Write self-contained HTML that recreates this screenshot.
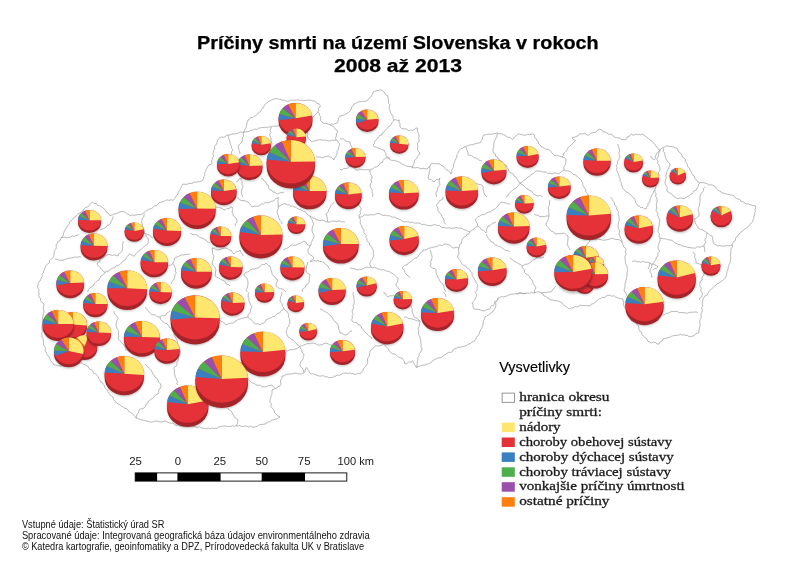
<!DOCTYPE html>
<html lang="sk"><head><meta charset="utf-8"><title>Príčiny smrti na území Slovenska</title>
<style>html,body{margin:0;padding:0;background:#fff}body{width:800px;height:566px;overflow:hidden;font-family:"Liberation Sans",sans-serif}svg{display:block;filter:blur(.45px);font-family:"Liberation Sans",sans-serif}.sf text{font-family:"Liberation Serif",serif}</style></head>
<body>
<svg width="800" height="566" viewBox="0 0 800 566">
<defs><filter id="sh" x="-20%" y="-20%" width="140%" height="140%"><feGaussianBlur stdDeviation="1.1"/></filter></defs>
<rect width="800" height="566" fill="#fff"/>
<g fill="none" stroke="#999" stroke-width=".6" stroke-linejoin="round">
<path d="M64 232L64.7 230.4L65.4 228.8L67 227.8L67.2 225.9L68.7 224.8L69.4 223.3L69.9 221.6L71.4 220.5L72.8 219.3L73.8 217.5L75.6 216.7L76.7 215L78.1 213.8L79.9 212.9L81.4 211.7L83.1 210.9L83.9 208.8L85.4 207.7L87.2 207L88.9 206.1L90 204.5L91.2 203.1L92.7 202L94 203.6L96.4 203.4L97.5 205.5L99.6 205.7L101.4 206.5L102.8 208L104.4 208.9L105.4 210.3L106.1 212.1L107.9 212.7L108.7 214.3L110 215.5L112 215.1L113.8 214.1L115.9 213.7L117.8 213L119.7 211.9L121.8 211.5L124 211.7L125.7 212.3L126.9 213.8L128.6 214.5L130 215.5L132 215.1L134 215.3L136 215L138 214.6L140 214.7L141.9 214.1L143.5 213L145 211.7L146.4 210.4L148.3 209.9L149.9 208.8L151.8 208.3L153.3 207.2L154.6 205.7L156.7 205.6L158 204L159.6 202.6L161.7 202.1L163.8 201.6L165.5 200.4L167.4 199.9L169.2 200.4L171.1 199.7L173 200.4L174.2 199.1L175.3 197.7L176.1 196L177.5 194.8L178 193L178.6 191.4L179.9 190.1L180.6 188.6L181.4 187.1L182.1 185.5L183 184L185.1 184.3L187.1 184.3L189 183.4L191 183.4L193 183L194.5 181.9L196.4 182.3L198.1 181.7L199.9 181.7L201.5 181L203 180L203.3 178.2L204 176.5L205 174.9L204.6 172.9L205.8 171.4L206 169.6L207 168L207.8 166.3L209 165L211 164.5L212 163L211.7 161.1L212.2 159.3L212.6 157.5L213.6 155.7L212.7 153.7L213.5 152L213.9 150.2L214.7 148.4L214.4 146.5L215.8 145L216.9 143.3L217.2 141.1L218.4 139.4L219.5 137.7L221.2 137L223.1 137.4L224.9 137L226.4 135.4L228.1 135L230 135L231.7 134.2L233.4 133.9L235.2 133.9L237 133.6L238.7 132.8L240.3 132L242.2 132.3L244 132L244.4 130.2L245.2 128.6L246.4 127.1L246.6 125.2L246.9 123.4L247.6 121.8L248 120L249.6 119.2L250.6 117.4L252.8 117.5L254.2 116.3L255.8 115.5L257.2 114.4L258.4 112.9L260 112L261 110.4L261.9 108.6L263.7 107.6L264.1 105.6L265.3 104.1L267 103L268.5 101.6L270.2 100.6L272.1 99.8L274 99L275.8 98.6L277.6 98.8L279.2 99.3L281 99.6L282.6 100.2L284.4 100L286 101L287.8 101.4L289.6 100.9L291.3 100.1L293.1 100.2L294.9 100.2L296.7 100.1L298.4 99.7L300.3 100.6L302 100L303.7 100.9L305.4 100.2L307.1 100.4L308.9 100L310.6 100.1L312.3 100.6L314 101L315.7 101.7L316.7 103.4L318.8 103.6L320 105L320.2 106.9L318.3 108.3L318.5 110.2L318 112L319.2 113.5L319.3 115.4L320.7 116.7L320.6 118.7L320.7 120.6L322 122L323.4 123.1L325.1 123.5L326.9 123.5L328.5 124.2L330 125L331.6 124L333.6 124.4L335.3 123.5L337 123L338.1 121.4L338.3 119.4L338.9 117.6L340 116L342 115.6L343.9 115.1L345.6 114.1L347.4 113.2L349 112L350.4 110.7L351.3 109L351.7 107L353 105.6L354 104L355.7 103.3L357.3 102.3L359.1 101.8L360.9 101.7L362.7 101.2L364.6 101.3L366.4 101.2L368 100L368.9 98.4L370.6 97.1L371.6 95.6L372.6 94L373 92L375 91.3L376.9 90.6L378.9 90.1L381 90L382.7 90.9L384.1 92.1L385.1 93.7L386.2 95.3L388 96L387.7 97.8L388.5 99.5L388.5 101.3L388.6 103.1L389.9 104.7L389.3 106.5L389.1 108.3L390 110L390.3 111.8L391 113.5L392 115L393.1 116.5L392.9 118.5L394 120L395.8 119.7L397.7 120.5L399.5 120L398.9 121.8L399.9 123.5L400 125.2L400 127L401.5 128.4L403.5 128.9L405.6 128.9L407.4 129.7L409 131L410.5 129.9L412.6 130.4L414.3 129.6L415.6 128.1L417.5 128L417.3 129.8L417.4 131.5L418.2 133.1L418.9 134.8L419 136.5L418.7 138.2L419.1 140L419.1 141.7L417.4 143.3L417.7 145L417.7 146.8L417.5 148.5L417.7 150.6L419.3 152.1L420 154L418.5 154.9L417.4 156.3L417 158.2L415.9 159.4L414.5 160.5L414.2 162.5L413.6 164.4L412.5 166.1L412 168L413.8 167.6L415.5 167.9L417.2 167.4L419 168L420.9 168.9L423 168.3L425 168.7L427 169L428.3 167.6L430 166.4L430.7 164.4L432 163L433.9 163.9L436 163.5L438 163.8L440 164L441.5 165.4L443.5 166.2L444.6 168.1L446 169.5L448 170.6L449.8 171.9L451 174L451.9 172.4L451.5 170.5L452.5 168.9L453.3 167.3L453.6 165.6L453.7 163.8L454.5 162.2L455 160.5L455.8 158.8L456.9 157.2L456.7 155L458.1 153.5L458.4 151.6L459.5 150L460.8 148.7L462.7 148.3L464 147L466 146.3L468 145.6L470 144.8L471.8 144.8L473.7 144.6L475.3 143.6L477.1 143.4L478.8 142.9L480.6 142.5L481.4 140.6L482.4 138.9L482.8 136.8L483.6 135L485.6 134.7L487.6 134.3L489.6 134L491.6 134.4L493.3 133.7L495.2 133.7L497 132.8L498.8 134L501.1 133.6L503 134.5L505 135L506.1 136.5L507.7 137.3L509.8 137.4L511.3 138.4L512.5 139.8L513.7 138.5L514.7 136.9L516.1 135.9L517.3 134.5L519 133.8L520.7 134.4L522.4 134.8L524.1 135.3L526 135L527.6 134.2L529.5 134.7L531.1 134.3L532.8 133.8L534.5 135.2L534.8 137.6L536.5 139L536.8 140.9L538.7 141.8L538.6 143.8L540.2 144.9L541 146.5L542.9 147.2L544.5 148.7L546.4 149.2L548.5 149.5L550.4 150.6L551.6 152.4L553 154L554.5 155.5L556.4 155.6L558.3 155.8L560.2 156.4L562 157L563.3 155.7L563.4 153.6L565 152.5L566.3 151.1L567.3 149.4L568 147.5L569.6 146.3L571 145L572.6 143.6L574 142L575.5 140.5L573.3 139.5L572 137.5L574.2 137.4L576 136.4L578 135.9L579.4 134L581.5 133.8L583.4 133.8L585.4 133.7L587.1 135.1L589 135L590.4 133.9L591.8 132.9L593.5 132.5L595.3 132.3L596.8 131.3L597.9 129.8L599.6 129.3L601.7 129.8L603 131.7L605.1 132.2L607 133L608.7 134.2L610.9 134.2L612.7 135.1L614.1 136.9L616 137.5L617.8 137.9L619.8 137.8L621.2 139.5L623.2 139.5L625 139.8L626.6 138.9L627.1 136.9L629.1 136.6L630 135L631.7 134.2L633.5 135.3L635.1 134.5L636.8 134.2L638.6 134.4L640.3 134.8L642 134L643.8 134.9L645.5 136L646.8 137.6L648.6 138.5L650 140L651.7 141L652.9 142.5L654.4 143.8L655.5 145.4L656.6 147L657.9 148.4L659 150L660.9 149.3L662.3 147.7L664.3 147L666 146L668.1 145.9L670 146.6L672.1 146.5L674.1 147.2L676 148L677.7 149L678 151.1L679.4 152.3L680.9 153.4L681.7 155.1L682.3 157L684 158L685.4 159.5L685.3 161.6L686.7 163.1L687.4 164.9L687.8 166.8L689.3 168.2L690 170L691 171.5L691.8 173.2L692.4 174.9L694.2 175.9L694.6 177.8L695.7 179.2L696.8 180.6L698 182L699.8 182.3L701.6 182.7L703.5 182.7L705.2 183.2L707 183.6L708.6 185L710.5 184.8L712.3 185.1L714 186L715.7 186.7L716.3 188.7L717.6 189.9L719.2 190.9L720.9 191.6L722 193L723.8 193.1L725.5 193.6L727.2 194.2L729 194.2L730.6 195.1L732.4 195.2L734 196L735.1 197.6L736.6 198.6L738.5 199.1L740.2 199.7L741.1 201.6L743.2 201.8L744.6 202.8L746 204L748.1 203.7L749.9 204.6L751.8 205.2L753.7 205.6L755.6 206L755.7 207.8L754.9 209.5L755.4 211.4L754.6 213.1L754.6 214.9L753.8 216.5L754 218.4L753 220L752.6 221.8L751.2 223L750.3 224.4L748.9 225.5L748 227L746.5 228.1L744.9 229L743.6 230.2L742.1 231.3L740.5 232.3L739.5 234L738 235L737.2 236.8L735.4 238L735.5 240.3L733.7 241.5L732.8 243.2L732 245L732.5 246.9L731.1 248.5L730.8 250.3L731 252.2L730.7 254L730.3 255.7L731.1 257.7L730.4 259.4L730.2 261.2L730 263L729 264.6L728.6 266.4L728 268.1L727.9 270L726.9 271.6L726.7 273.4L726.2 275.2L726 277L724.8 278.5L723.6 279.8L722.1 280.9L720.4 281.7L719.2 283.2L717.1 283.5L716 285L714.6 286.2L713.2 287.4L711.8 288.6L710.6 290L709.1 291.3L708.1 293L707.4 295L705.2 295.7L704 297.3L703 299L702.8 300.7L702.5 302.4L702.2 304.1L702.8 305.9L701.6 307.5L702.2 309.2L702.2 311L701.7 312.6L700.9 314.3L701 316L701.2 317.9L700.2 319.7L699.6 321.5L700.1 323.4L700.1 325.3L699.7 327.1L699.2 329L698.8 330.8L699 332.7L697.2 333.3L695.5 334L694.2 335.6L692.4 336.2L690.5 336.5L688.7 336.4L687.3 335.3L685.4 335.5L683.9 334.7L682 335.1L680.5 334L678.9 335.1L677.1 335.3L675.2 335.3L673.4 335.7L671.7 336.2L670.1 337.3L668.2 337.5L666.5 338.1L664.8 338.5L663 339L662.1 341L659.9 342L659 344L657.1 344L655.5 342.5L653.6 342.1L651.5 343L649.8 342L648 341.5L647.2 339.8L646.3 338.2L644.5 337.2L643.2 335.9L641.9 334.6L641.7 332.4L640 331.4L638.9 329.4L638.8 327.1L638 325L636.5 323.9L635.9 322.1L635.3 320.2L633.2 319.5L633 317.5L631.5 316.3L630.9 314.5L629.6 313.2L627.9 312.2L627.6 310.1L626.1 309.1L625 307.6L623.9 306.1L623.4 304.4L623.6 302.4L623.1 300.7L622.7 299L620.8 298.7L618.9 298.4L617.2 297.5L615.4 297L613.8 295.7L611.6 296.3L610 295L608.1 295.4L606.3 296L604.9 297.7L602.7 297.3L601 298.3L599.1 298.7L597.6 300L596.3 301.4L594.7 302.6L593.1 303.7L591.1 304.2L590 306L588 305.7L586 305.8L584 305.5L582 305.5L580 305L578.6 306.3L576.9 306.9L574.8 306.5L573.5 308L571.4 307.7L570 309L568.4 308.3L566.9 307.3L565.7 306L564 305.4L562.7 304.2L561.8 302.4L560 302L558.1 301L556.1 300.7L554 300.6L552.1 299.8L550 300L549 298.3L547.2 297.7L545.9 296.3L543.9 296L543.1 294L541.4 293.2L540 292L538.3 291.8L536.6 292.1L534.9 292.7L533.2 293.2L531.4 292.1L529.8 293.4L528 293L526.2 293.2L524.5 293.5L522.7 293.6L520.9 293.1L519.1 292.8L517.4 294L515.5 293.5L513.8 294.2L512 294L510.2 294.4L508.5 295.2L506.9 296L505.1 296.5L503.4 296.9L501.3 296.4L499.8 297.5L498 298L497.8 299.8L496.3 301.2L495.6 302.9L495.8 304.9L495.7 306.7L495 308.4L494 310L492.9 311.7L491.1 312.5L489.9 314L488.2 315L486.7 316.1L485 317L484.4 319L483.4 320.9L483.1 322.9L483 325L482.3 326.6L481.6 328.2L480.6 329.7L480.1 331.3L479.3 332.9L478.9 334.6L477.9 336L476.2 337.1L476 339L474.9 340.7L473 341.5L471.4 342.6L470 344L468.1 344L466.8 345.5L465 346L463.4 346.6L461.6 346.9L459.9 347.4L458 347.2L456.5 348.4L454.7 348.8L453.2 349.6L452.4 351.6L450.8 352.4L448.8 352.3L447.2 352.9L446 354.3L444.4 355L443 356L441.7 357.5L439.8 357.8L437.8 357.9L436.2 358.8L434.6 359.6L432.9 360.3L431.7 362.1L430.2 363.1L428.5 363.8L426.6 364.2L425 365L423.1 365.2L421.2 365.4L419.5 366.2L417.7 366.8L416 367.5L415.5 365.6L414.2 364.2L413.5 362.4L412.6 360.8L410.9 362.2L408.5 362L406.9 363.6L404.8 364L404.6 361.9L403.5 360.2L402.5 358.5L400.8 357.9L399.1 357.3L397.6 356.3L396.3 355L394.8 354L392.9 354L391.3 353.2L390 351.8L388.9 350.2L387.9 348.6L386.6 347.2L385.3 345.8L384.5 344L382.8 344.4L381.3 345.7L379.5 345.8L377.8 346.1L375.9 345.8L374.4 347L372.8 348.5L371 349.8L370 351.8L369.6 353.5L369.5 355.2L369.1 356.8L367.6 358.2L367.5 360L367.7 361.8L367.6 363.5L366.5 365L365.4 366.5L364.1 367.8L363.3 369.6L362.5 371.2L360.9 372.4L360 374L358.3 373.2L356.5 374.2L354.7 374.3L353 373.7L351.2 373.5L349.5 373L347.7 373.6L346 373L344.2 373.1L342.5 373.7L340.8 374.5L339.2 375.5L337.2 374.9L335.7 376.3L333.8 376.1L332.3 377.5L330.5 377.6L328.7 377.7L327 376.6L325.1 376.9L323.5 375.6L321.6 376L319.8 376.1L318 375.7L316.3 375.1L314.6 374.4L312.9 373.7L311 374L309.5 372.7L308.9 370.8L307.6 369.4L307 367.5L305.2 369L305.1 371.5L303.5 373L301.6 373.8L299.7 374L297.8 373.7L295.8 373.1L293.9 373.3L292 374L289.9 374.1L287.9 374.1L285.9 374.6L284.1 375.9L282 376L282.1 378.1L280.6 379.9L280.4 381.9L281.1 384.1L280 386L278.3 386.6L276.9 387.8L275.3 388.6L273.7 389.4L272 390L272.1 392.1L271.9 394.1L271.1 396.1L270.6 398L270 400L269.8 402.2L271.5 403.9L270.8 406.2L272 408L273.4 409.3L274.2 410.9L274.6 412.8L276 414L277.7 415.9L280 417L278.4 417.8L277.1 419L275.2 419.1L273.7 420L271.7 419.9L270.6 421.6L268.9 422.1L267 422.1L265.9 423.9L264 424L262.3 424.6L260.5 424.4L258.8 424.9L257.3 426.4L255.6 426.8L253.9 427.2L252 427L250.3 426.2L248.5 427.1L246.8 426.3L245 425.9L243.2 426.6L241.5 426.6L239.8 425.4L238 426L236.3 425.8L234.6 426.4L232.9 425.7L231.1 426.3L229.4 426.3L227.7 426.7L226 426L224.2 426L222.3 426.1L220.6 426.8L218.8 426.7L217.2 428.4L215.4 428.4L213.6 428.4L211.7 428L210 429L208.3 428.1L206.5 428.7L204.7 428.6L203 428.1L201.2 427.8L199.6 426.9L197.7 427.7L196 427L194.3 426.4L192.5 426.4L190.7 426.2L188.9 426.1L187.1 426.3L185.3 426.6L183.5 426.5L181.8 426.3L180 426L178.4 425L176.3 425.3L174.6 424.6L173.1 423.1L171.1 423.2L169.3 422.9L167.5 422.3L166 421L164 421.3L162 421.9L160 422L158.3 421.2L156.5 421.2L154.8 420.9L153 421.9L151.2 422L149.5 421.9L147.7 421.1L146 421L144.4 420.2L142.6 420.1L140.9 419.9L139.3 419.1L137.7 418.3L136 418L134.9 416.5L133.6 415.1L132.4 413.6L130.8 412.5L128.9 411.7L128 410L126.6 408.6L124.5 408.3L123.1 406.9L121.2 406.2L119.9 404.7L118 404L116.5 403L115.5 401.6L114.4 400.2L113.2 399L112.9 397L111.4 395.9L110 394.8L109 393.4L108 392L107.6 390.1L106 389L104.7 387.7L104.4 385.7L103.2 384.4L102.6 382.6L100.5 381.8L100 380L98.8 378.6L98.1 376.8L97 375.4L95.9 373.9L93.7 373.3L92.9 371.6L92 370L90.2 369.5L88.9 368.4L88.1 366.4L86.4 365.9L85.2 364.5L83.3 364.2L82 363L80.1 362.8L78.5 363.8L76.8 364.5L74.9 364.1L73.1 364.2L71.6 365.8L69.7 365.5L68 366L66.3 365.7L64.5 366.2L62.7 365.8L61 366L59.2 365.8L57.5 365.6L55.8 365L54 365L53.2 363.3L51.6 362L50.4 360.5L49.8 358.6L49.2 356.7L47.6 355.5L46.8 353.8L46 352L45.2 350.4L45.6 348.5L44.9 346.9L43.8 345.4L43.4 343.6L43.4 341.8L43.3 340.1L43 338.4L41.8 336.8L42 335L41.6 333.2L42.5 331.4L42.1 329.5L42 327.7L42.2 325.9L43.2 324.1L42.4 322.3L42.8 320.5L42.6 318.6L42.8 316.8L43 315L43.7 313.1L44.1 311.1L43.4 309L43.3 307L44 305L43.3 303.2L41.6 302L40.4 300.6L40.5 298.3L39 297L38.7 295.3L39.2 293.5L38.4 291.9L39 290.1L38.2 288.4L37.6 286.8L38 285L38.3 282.7L40 281L40.7 279.4L41.4 277.8L42.4 276.3L41.9 274.3L43.3 272.9L43.6 271.2L44.4 269.6L45 268L45.6 266.3L46.7 264.9L48 263.7L49.5 262.6L49.5 260.4L51 259.3L52.4 258.1L53.6 256.8L54 255L54 252.9L54.3 250.9L55.9 249.1L56.3 247.1L56 245L57.2 243.4L57.9 241.4L60.1 240.6L60.7 238.5L62 237L63.2 235.6L63.5 233.7L64 232M244 132L243.1 133.9L243.7 136.1L242.4 137.9L242.4 140L241.9 141.8L240.8 143.3L239.3 144.5L238.4 146.2L238 148L239.1 149.8L239.7 151.9L240 154M228 135.2L228.5 136.9L228.8 138.7L229.4 140.4L230.2 142.1L230 144L231.3 145.8L231.7 148.2L233 150L231.5 151.7L231.6 154.3L230 156M271 127L270.7 128.8L270.2 130.6L271.1 132.5L269.7 134.1L270 136L271.1 137.9L270.9 140L271.4 142L272 144M318 112L316.5 113.2L315.5 114.9L314.1 116.1L312.6 117.2L311.4 118.7L310 120L309.3 121.6L309.1 123.4L308.6 125L308.7 126.9L307.3 128.3L307 130L307.3 132L307.9 134L307.4 136L308 138L309 139.6L310.7 140.6L312 142L313.8 140.9L316 140.6L318 140L319.8 139.6L321.5 139.7L323.2 140.3L324.9 140L326.6 140.6L328.3 140.9L330 141L331.9 140L334 140.5L336 140L337.8 140.9L338.4 142.9L340 144M340 144L338.9 145.9L338.7 148L338 150M336 140L335.5 137.9L336.4 136L336.4 134L337.5 132.1L337 130L335.3 129.4L334.5 127.6L333.2 126.4L331.6 125.7L330 125M241 178L241 180.1L242.4 181.9L241.8 184.2L243 186L242.7 188L241.6 189.9L241.3 191.9L241.6 194L242.9 197M261 178L263 178.9L264.1 181L266 182L266.2 183.9L268.2 184.9L268.6 186.7L268.9 188.6L270 190L271.8 190.3L272.9 192.1L275 192.1L276.2 193.6L278 194L279.8 192.8L282 192.7L284 192M316 156L317.8 157.3L320.1 156.9L322 158L323.9 157L326 156.7L328 156L329.7 156.8L331.4 157.4L332.8 158.6L334 160L334.2 158.1L335.9 156.9L336.3 155.1L337.2 153.6L336.9 151.5L338 150M236 182L237.9 181L239 178.9L241 178M394 120L393 121.5L391.8 122.9L391.2 124.6L390 126L388.1 127.1L386.9 128.9L385.4 130.4L384 132L382.3 132.9L381.8 135.1L379.5 135.5L378.5 137.2L377.4 138.8L376 140L374.6 141.4L374.3 143.5L373 145L374.3 146.6L376.3 147.1L378 148L380.1 148.5L381.9 149.7L384 150L384.8 151.7L385.9 153.3L385.9 155.4L387 157L388.9 157.4L390 159M340 138L341.5 139.1L343.5 139L344.9 140.2L346.4 141.3L348.3 141.5L350 142L350.3 144.1L351.3 145.9L352.2 147.8L352 150L352.2 152.2L351.5 154.1L350.3 156L350 158L350.4 160L350.5 162L350.2 164.1L351 166L353 166.9L354.6 168.3L356 170L357.8 170.2L359.5 169.3L361.2 169.3L363 169.8L364.8 169.4L366.5 169.8L368.2 169.6L370 170L371.7 169.3L373.3 168.5L374.6 167.2L376.5 167L378 166L379.3 164.6L380.3 162.9L382.5 162.5L383.1 160.4L384.3 159L386 158M386 158L387.8 157.9L389.3 159.2L390.8 160L392.5 160.4L394.4 160.4L396 161L397.8 161.5L399.7 162L400.9 163.7L402.6 164.4L404.4 165L406 166L408.2 166.5L410.5 166.6L412.7 167M370 170L369.9 172.2L370.7 174.1L371.9 175.9L372 178L370.9 179.9L371.7 182.2L370.5 184L370 186L370.7 187.6L371.6 189.1L372.4 190.6L372 192.5L373 194L372.3 197M340 169.3L342 170L343.5 168.5L345.6 168.5L347.7 168.2L349 166.3L351 166M428.9 166.2L429.9 168L430 170L429.3 172L429 174L428.3 175.9L428 178L429.2 179.4L431.3 179.6L432.7 180.8L434 182L435.3 180.8L436.6 179.4L438.8 179.5L440 178L439.3 179.9L439.2 182L440 184.1L439 186L437.9 187.4L437.5 189.1L437.2 190.8L436.3 192.3L436 194L436.7 197M466 147L466.6 149L467.4 150.9L468.1 152.9L468 155L469.7 155.2L471.4 155.6L472.9 156.6L474.3 157.8L476 158L477.9 159.3L479.8 160.5L482 161M498 133L497 134.5L497 136.5L495.9 138L495.4 139.7L494.3 141.2L494 143L493.7 145L493.8 147L493 149L493 151L493.4 153L495.4 154L495.5 156.1L497.6 157L498 159L499.8 159.9L501.4 161.1L502.6 162.9L504 164.3L506 165L506.7 167.2L508.2 168.9L509 171L510 172.6L512 173.2L513.5 174.3L514.2 176.3L516 177L516.8 178.6L517.8 180.2L518.8 181.6L520 183M520 183L522 182.4L523.2 180.6L525.1 179.8L526.6 178.4L528 177L529.9 176.2L531.1 174.5L533 173.7L534.5 172.3L536 171L538 171L540.1 171.1L542 171.9L544 172L546.2 171.9L547.9 173.6L550.1 173L552 174L553.9 173L555.9 172.9L558.1 173.9L560 173L561.9 171.3L564 170M520 183L518.9 184.9L517.5 186.5L516 188L514 189L512.5 190.1L511.2 191.5L509.8 192.8L508.4 194.1L507.8 196.1L506 197M520 183L521.5 184.3L523.3 185.2L524.5 187L526.1 188.2L528 189L529.2 190.7L531.6 190.9L532.5 193L534 194.3L536 195L537.5 196.1L539.5 195.4L541.2 196.1L542.7 197M564 170L563.8 168.1L564 166.2L565.5 164.6L565.8 162.8L565.9 160.9L566 159L564.2 157.6L562 157M564 170L565.5 170.8L567.3 170.9L569 171.2L570.6 171.8L572 173L573.4 174.5L575.5 175L577 176.4L578.5 177.7L580 179L581.4 180.3L581.9 182L582.7 183.7L582.9 185.5L584 187L585 188.5L585.8 190.1L585.8 192.1L587.2 193.4L588 195M476 183L477.8 184.2L479.9 184.5L482 185L483.2 186.8L483.1 189L483.6 191L484 193L485.2 195.2L487 197M660 150L659.7 151.7L658.7 153.2L658.4 155L658.4 156.8L657 158.2L657 160L658.1 161.5L657.5 163.5L659 164.9L659.7 166.5L659.9 168.2L660 170L659.1 171.6L658.3 173.1L659.2 175.2L658 176.7L657.5 178.3L657 180L656.2 181.9L656.7 184.1L655.8 186L655.6 188L655 190L654.9 192.1L656.2 193.9L655.5 196.1L656.9 197.9L657 200L657.2 202L656.3 204L656.4 206L656.8 208.1L656 210L656.5 211.7L657.9 213.1L657.6 215.2L658.4 216.8L658.9 218.5L660 220L659.4 222L659.4 224L658.9 226L658.6 228L658 230L657.9 232.1L659.6 233.8L658.9 236.1L660 238L660.2 240.2L659.4 242.1L658.8 244.1L658 246L658 248.2L659.1 250L659.7 252M663 148L663.6 149.6L663.3 151.5L664.7 152.9L664.8 154.7L665.1 156.3L665.6 158L666.4 159.7L667.5 161.2L668.7 162.6L670 164L669.6 165.7L669 167.3L668.7 169L667.1 170.2L667 172L666.4 174L665.8 175.9L666.3 178.1L665.5 180L665 182L665.1 183.8L665.9 185.4L667 186.8L667.1 188.7L666.9 190.5L668 192L669.8 192.9L671.5 194L673 195.4L674.2 197L676 198L677.9 198.8L680.1 198L682.1 198.2L684 199L685.4 197.7L687.1 196.8L688.8 196L690.1 194.6L692 194L693.1 192.3L694.1 190.7L696.3 190L697 188L698.3 186.5L698.5 184.4L700 183M705 187L703.4 188.4L703.5 190.8L702.2 192.3L701 194L700 195.9L700.1 197.9L699.9 200L700 202L699.6 204L699.4 206.1L698.3 207.9L698 210L698.9 211.9L699.1 213.9L699 216L697.4 217.1L696 218.6L694 219M694 219L694.9 220.7L695.2 222.8L696.1 224.5L697.2 226.2L698 228L699.5 229L701.2 229.6L703 229.9L704.3 231.3L706 232L707.6 232.9L708.8 234.3L710.2 235.5L712 236L712.6 238L712.9 240L713.1 242.1L714 244L716.1 244.9L718 246L719.7 245.5L721.5 246.1L723.3 246.2L725 245.9L726.8 245.7L728.5 245.8L730.3 245.4L732 245L732.3 245.4M660 238L662 238.6L664 238.7L666.1 238.9L668 239.8L670 240L672 240.3L673.5 241.6L675 243L676.7 243.7L678.5 244.5L680.5 244.8L682 246L684 246.3L686 246.7L688 247.4L690 247.5L692 248L693.8 248L695.5 248.1L697.1 246.7L698.9 247.1L700.6 247L702.3 246.1L704 246L704.5 244L705.7 242.2L704.8 239.8L706 238L706.6 235.5L707 233M650 156L651.7 157L652.4 159L654 160L655.3 158.6L655.4 156.7L656 155L656.9 153L658.8 151.7L660 150M630 194L631.3 195.4L632.4 196.9L634 198L634.8 199.6L635.4 201.3L636 203L637.2 204.4L638 206L639.6 206.5L641 207.8L643 207.4L644.3 208.7L646 209L646.7 207.1L648 205.6L647.9 203.4L649.9 202.1L650 200L650.6 198.2L651.1 196.4L652.2 194.8L653.2 193.3L653.5 191.3L655 190M704 246L704.4 248L704.7 250L704.9 252M618 144L618 145.8L618.8 147.4L619.2 149.1L619.6 150.8L619.1 152.6L619.1 154.4L620 156L619.3 157.7L619.1 159.5L617.6 160.8L617.5 162.7L617.1 164.5L616 166L617 167.5L616.6 169.5L617.1 171.1L617.8 172.7L618.5 174.3L619 176L619.4 177.7L620.4 179.2L619.8 181.2L621.2 182.6L621.3 184.4L622 186L622.6 187.8L623.6 189.3L625 190.5L626 192L628.1 192.7L630 194M632 261.1L633.7 261.3L635.5 260.8L637.1 262L638.9 261.4L640.5 262.3L642.3 261.5L644 262L646 262.2L648.1 262.3L650 263L649.4 265L649.1 267.1L648 269M694 253L695.1 254.9L694.5 257.1L695.5 258.9L696 260.9L696 263L698.1 263.4L700 264.3L702 265L702.5 267L702.6 269L703 271L703.8 273L704 275L702.6 276.3L701.9 278L702.2 280.1L700.4 281.2L700 283L699.7 284.8L700.2 286.5L701.4 288.1L700.7 289.9L701.2 291.6L702.4 293.2L702 295L701.8 297L699.7 298L699.5 300M650 263L651.5 264L653.4 264.3L655.1 264.9L656.6 265.7L658 267L656.5 268.3L654.5 268.6L653 270M692.6 252L694 253M60.9 237.9L62.9 237.5L64.9 237L67 238L69 237.2L70.8 237.2L72.2 235.8L74.2 236.4L75.7 235.5L77.4 235.3L79 234.4M100 230L101.6 229.4L103.3 228.8L104.7 227.9L106.2 227.1L107.3 225.4L109 225L110.2 223.5L111 221.7L112 220L112.8 218.3L113 216.4M55 259L57 259.3L58.9 260.3L61 260.1L63 260.4L64.9 259.5L66.9 258.8L68.8 258.1L71 258L73 257.8L74.9 256.9L77 257.4L78.9 256.7L81 257M107 255L105.6 256L104.2 257L102.8 258L101.1 258.6L100 260L99.6 261.9L97.6 262.6L97 264.4L98.4 265.7L99.6 267.1L101 268.4L102.2 269.9L103.3 271.4L105 272.4M105 272.4L103.9 273.9L102.6 275.3L100.7 276.1L100 278L99 280L96.9 280.9L95.4 282.4L94 284L93.3 285.9L91.5 286.7L90.2 288L88.7 289.2L88 291L87.4 292M105 272.4L106.4 271.3L108.4 271.3L109.5 269.9L111 269L112.7 268.1L114.8 267.8L115.9 265.8L118 265.6L119.8 264.6L121.3 263.1L122.6 261.5L124.4 260.4L125.9 259.4L126.3 257.6L127.5 256.3L128.6 255L129.6 253.6L130.8 254.9L132.8 255.1L134 256.4L135.2 254.8L136.4 253.3L137.8 252L139 250.4L141.3 249.4L143 247.6M123 241L123.2 242.8L122.3 244.6L122.8 246.4L122.5 248.2L122.4 250L121.6 251.7L120.2 253L118.5 254.1L118 256L116.2 255.5L114.5 254.9L112.6 255.3L110.8 255L109 254.4L107 255M143 247.6L144.5 246L146.4 245L148 243.6L148.2 241.7L148.4 239.9L148 238L146.2 236.7L145.9 234.5L144.4 233M144.4 233L144.6 231.2L143.7 229.7L143.2 228L142.2 226.1L142.3 224L141.6 222.1L142 220L142.2 218.2L143.8 217L144 215.3L144.4 213.6M144.4 233L146.2 233.9L148 234.7L150 235L151.1 236.9L153 238M168.4 266L170 265.3L171.5 264.6L173 263.6L173.7 261.8L174.2 259.9L174.4 258L176.3 257.3L178.2 256.6L180 255.6L181.9 254.8L184 255L186 254.3L188.1 254.4L190 253.6M173 263.6L174.2 265.3L174.8 267.2L175.7 269L175.3 271.3L176.4 273L175.1 274.5L174.8 276.4L174.5 278.3L173.6 280L171.9 281.7L171 284M237.8 197L238.6 198.8L240 200L242 200.6L244.1 200.6L246.1 201.2L248 202L249.4 203.6L250.9 205.2L252 207L254 206.4L256.1 206.2L258.2 206.1L260 205L261.5 203.9L263.4 204.1L264.8 202.8L266.5 202.5L268.5 202.9L270 202L271.7 201.3L273.5 201L274.8 199.5L276.1 198.1L278 198L278.8 197M232 207L232.4 208.7L232.4 210.5L232.1 212.3L233 214L233.4 215.9L235 217L236.1 218.4L237 220L236.9 222.2L235.5 223.9L235 226M216 207L217.8 207.2L219.4 207.7L221.1 208.1L222.7 208.7L224 210L225.7 209.7L227 208.3L229 208.9L230.2 207L232 207M278 206L280.1 206L281.9 204.5L283.8 203.8L286 204L287.5 204.9L289.3 204.8L290.7 206.1L292.6 206L294 207L295.8 207L297.1 208.6L298.7 209.1L300.2 209.9L302 210L303.4 211.5L305.6 211.9L306.7 213.8L308.2 215.1L310 216L311.6 216.7L312.9 218.2L315 218.1L316.1 219.8L318 220L319.9 220.7L322.1 220.1L324.1 220.5L326 221.8L328 222L330 222.3L331.9 221L334 221.1L336 221.5L338 221L339.8 220.8L341.4 222L343.3 221.7L345 222M278 206L278.3 208.1L277.5 210L277 212L277.6 214L278.4 216L279 218L279.8 220.1L281.5 221.8L282 224M278 206L278.4 204L277.8 202L278.2 200L278 198M310 216L310.6 217.7L311.7 219.1L312.6 220.7L312.8 222.6L314 224L312.7 225.8L312.3 227.9L312 230L312.4 232L313.3 233.9L314.1 235.8L314 238L312.6 239.3L312.1 241.1L311.2 242.6L311 244.5L310 246L309.2 247.9L308 249.8L308 252L309.1 253.9L310.9 255.1L312.7 256.3L314 258L312.7 259.4L310.9 260.3L310 262M328 222L327.3 220L327.3 217.9L326.6 216L326 214L327.5 212.8L328.4 211.3L328.7 209.3L330 208L330.4 206.1L331.7 204.8L332.9 203.4L334 202M283 250L284.8 249.1L286.7 248.4L288.5 247.5L290 246L291.8 244.8L294.1 245.5L296.1 245L298 244L300.2 243.5L302 242.1L304 241L305.7 242L306.7 243.9L308.2 245.1L310 246M190 233L191.5 233.9L193 234.8L194.9 234.6L196.6 234.8L198 236L199.6 236.9L201 238L203 238L204.2 239.5L206 240L207.6 242L210 243M212 248L214.1 248.3L215.9 249.5L218 250L220.1 249.6L222 248.6L224 248L225.9 248.1L227.6 248.6L229.1 249.9L231 250L232.2 252.3L234 254M234 254L235.5 252.9L236.7 251.5L238.8 251.4L240 250L240.6 252.2L242.4 253.8L243 256M212 248L212.4 250L212.4 252.1L212.9 254.1L214 256L213.5 258L213 260L212.4 262L212 264L213.4 265.2L214.4 266.7L215.4 268.2L216 270L215.4 272L215.5 274L215 276L216.7 277.1L218.6 277.9L220.2 279L222 280L223.9 280.8L225.6 281.9L226.4 284.2L228.5 284.6L230 286M244 274L245.2 272.5L247.1 272.2L248.7 271.4L250 270L251.9 269L254 269.1L255.9 268.3L258 268L259.6 267L260.8 265.4L262.4 264.4L264.8 264.6L266 263L267.7 264.9L270 266L270.5 268L270.9 270L271.8 271.9L272 274L273.2 275.8L275.1 276.9L276 279L278 280L277 281.9L276.2 283.8L276 286M244 274L244.2 275.9L245.9 277L247 278.5L247.6 280.2L248 282L248 284.1L247.6 286.2L247.2 288.2L246 290L247.3 292M308 262L307.4 264L306.5 265.9L306.6 268L306 270L306.4 271.9L307.5 273.3L309.5 274.1L310 276L309.4 278L309.1 280L309.1 282.1L308 284L306 285L305.3 287.3L303.4 288.4L302 290L302.5 292M276 286L277.5 287L278.9 288.2L280.7 288.6L282.5 289.1L284 290L286 292M310 262L312 261.4L313.9 260.5L316.2 261.2L318 260L319.3 261.6L321.5 261.6L323.4 262.4L324.9 263.7L326.4 264.8L328 266L328.5 267.8L330 269M359 217L360.9 217.1L362.6 216.5L364.1 214.8L366 215L368 215.2L370 214.9L372 214.6L374.1 214.9L376 214L378.1 213.5L380.1 213.9L382 215L383.9 215.5L386 215L387.6 215.8L389.4 215.7L391 216.6L392.6 217.4L394.5 216.9L396 218L397.7 218.6L399.4 219.3L401.1 219.9L402.4 221.2L404 222L405.8 221.6L407.5 221.9L409.2 221.9L410.8 222.8L412.6 222L414.3 223.2L416 223L418.1 223L420.1 223.1L421.9 224.8L424.1 224.2L426 225L428 225.7L430 225.6L432 225.6L434 224.5L436 225L437.7 225.4L439.5 225.4L440.8 227.1L442.5 227.5L444.3 227.7L446 228L447.7 227.9L449.4 227.8L451.1 228.5L452.9 228L454.6 228.2L456.3 227.5L458 228L460.1 228.1L462.2 228.4L463.9 229.8L466 230L468 231.1L470 232M443.1 197L443 198L442 199.8L439.8 200.4L439 202.4L437.5 203.7L436 205L437.2 206.5L437.8 208.4L437.8 210.5L439 212L440.2 213.5L441.4 214.9L442 216.8L443.2 218.3L444 220L444.2 222.4L445.6 224.4M359 217L358.9 215.1L360.7 213.7L359.9 211.6L361 210L361 208.2L360 206.7L358.8 205.4L358.6 203.6L358 202L358.1 200.3L358.4 198.6L359.2 197M359 217L360 218.7L360.4 220.5L360.1 222.6L360.7 224.4L362 226L362 227.8L363.8 229L364.1 230.7L363.8 232.6L365 234L366.2 235.4L365.9 237.3L367.1 238.7L366.7 240.7L368 242L369.6 243.1L369.6 245.3L371.2 246.4L372 248L373 249.9L373.7 251.8L373 254.1L374 256L373 257.5L372.4 259.3L371.1 260.6L370 262L369.9 264.6L371 267M470 232L471.3 230.5L473.3 229.7L474.5 228L476.1 226.8L478 226L477.4 223.8L476.3 221.9L475 220L476.4 218.3L477.9 216.8L480 216L481.4 214.8L483.4 214.8L485 214L486.5 213L488.2 212.3L490 212L491.7 210.9L493.4 209.8L495.1 208.8L496.5 207.3L498 206L499 204.4L500.2 202.9L502 202L503.9 202.8L506 202.9L507.9 203.8L510 204M470 232L469.1 233.8L467 234.3L466.2 236.2L464.3 237L462.9 238.3L462 240L461.4 241.6L461.5 243.5L459.6 244.6L459.6 246.4L459 248L458.2 249.9L458.9 252L458.9 254L457.7 256L458 258L459.2 259.4L460.4 260.7L461.2 262.4L462 264L463.5 265.3L465.6 265.8L466.8 267.6L468.4 268.7L470 270L470.8 271.6L472.1 272.9L472.1 274.9L472.8 276.6L474 278L474.3 279.8L475.8 281.1L476.1 282.9L477.4 284.3L478 286L476.9 287.9L477.2 290.2L475.8 292M423 250L424.9 250L426.7 249.7L428.2 248.5L430 248L432 247.5L434 247L436 246.6L438 246L439.8 244.8L442.2 245.7L443.9 244.1L446 244L447.8 244.4L449.5 245.1L451 246.1L452.2 247.6L454 248L456.5 247.3L459 248M423 250L422.2 251.9L420.3 252.8L419.6 254.8L418 256L416.8 257.8L414.7 258.3L413.1 259.5L411.6 260.8L410 262L408.2 263L407.2 264.9L404.9 265.2L403.4 266.5L402 268L403.6 269.1L404.5 270.7L405 272.5L406 274L407.3 275.3L408.9 276.4L410 278M430 250L431.1 251.9L431.1 254L432 255.9L432 258L431.4 260L430.5 261.9L431 264.1L430 266L431.4 267.1L432.8 268.3L434.8 268.6L436 270L436 272.1L436.4 274.2L437.7 276L438 278L439.3 279.5L440 281.5L441.6 282.8L442.9 284.3L444 286L444 288.2L444.9 290.1L446 292M350 268L352.1 268.3L354.1 268.6L356.1 269.3L358 270L359.6 269.3L361.5 269.5L363 268.6L364.6 268.2L366 267L368.5 267.5L371 267L372.7 267.9L374.7 267.1L376.4 268.2L378.1 269.3L380 269L381.5 270.1L383.4 269.6L385 270.4L386.6 271.2L388.4 271.3L390 272L391.6 273.2L393.6 273.9L394.9 275.5L396.4 276.8L398 278L398 280.2L397.2 282.2L396 284L396.4 285.9L397.7 287.2L398.5 288.9L400 290M486 234L486.8 235.6L487.6 237.3L488.5 238.8L490 240L490.9 241.7L493.2 242.2L494 244L495.5 245L497.4 245.3L498.7 246.6L500.6 246.9L502 248L503.6 248.9L504.9 250.2L506.7 250.6L508.6 250.9L510 252M478 226L479.3 227.2L480.7 228.3L481.6 230L483.5 230.4L484.9 231.6L486 233L486.7 231.3L486.5 229.3L487.6 227.8L488 226L489.9 225.8L491.2 224.4L492.6 223.3L494.4 222.8L496 222M550 200L549.5 202L549.5 204.1L549 206.1L548 208L548.8 209.9L548.8 212L548.9 214L549 216L548.7 217.7L548.2 219.3L547.8 221L546.5 222.4L546 224L546.6 225.8L547.9 227.1L548.9 228.6L550 230L551.4 231.2L553.2 231.6L554.3 233.3L556 234L558 233.7L560 233.6L562 233.4L564 233L566 234.5L568 236L568 238L567.9 240L567.7 242.1L567 244L568 246L569.2 247.9L570 250M534 214L535.9 215.1L538.3 215.3L540 217L542 216.4L544.1 216.9L546 216L549 216M610.6 197L611.8 198.3L612.3 200L613.3 201.5L614.5 202.8L614.5 204.9L616 206L616.8 207.6L616.6 209.5L618 210.9L618.6 212.5L618 214.5L619 216L618.9 218L619.3 220.1L618.6 222L618.3 224L618 226L618.1 228.1L619.4 229.9L619.6 231.9L618.9 234.1L620 236L620.3 238.1L621.8 239.8L622 242M590 240L592 239.5L594 239.3L596 239.5L598 239L600 239.4L601.9 240L603.9 240.2L606 240L608 239.4L610.1 239L612 238L613.9 238.9L615.9 239.4L618 239.5L620 240L622 242M622 242L622.4 243.8L623.3 245.3L623.8 247.1L625.7 248.1L626 250L625.2 251.9L626.3 254.1L625 256L625.1 258L625 260L625.5 261.7L625.3 263.5L626.4 265L627.1 266.6L627.1 268.5L628 270L627.1 271.9L627 274L627 276L626.5 278L626 280L625.7 282L624.9 283.9L625.1 286.1L624.6 288L624 290L624.9 292L626.2 293.9L627 296M510 258L511.6 258.8L512.8 260.4L514.2 261.4L516 262L517.5 263L519 263.9L520.8 264.6L522 266L523.9 265.1L525.8 264.2L528 264L529.7 262.9L531.3 261.7L532.4 259.9L534.8 259.7L536 258L538 257.5L540.1 258L542.1 257.8L544 257M522 266L522.2 267.9L524 269L524.5 270.8L524.6 272.7L526 274L528 275L529.5 276.5L530.4 278.6L532 280L532.8 281.6L533 283.5L534 285L535.1 286.4L536 288L534.5 290.2L534.4 292.8M516.6 294L518.3 293.5L520 293L522 293.2L524 293.5L526 293.4M540.9 293.1L542.7 292.7L544.5 292.4L546.4 292.6L548.2 292L550 292L552 291L553.2 289.2L554.5 287.5L556 286M590 240L589.5 241.8L588.2 243.1L587.1 244.6L586 246L584.6 247.3L583.3 248.6L582 250M658.4 252L657.6 253.9L658 256L656.4 257.1L656 259L655.1 260.5L654 262L653 263.5L651.7 264.9L651.8 266.9L650.8 268.4L650 270L650 272.1L651.5 273.9L651.8 275.9L652 278M114 311L114.2 312.9L115.2 314.4L116.4 315.8L117.7 317.1L118 319L116.8 320.8L116.4 322.9L116 325L116.6 327.2L117.3 329.3L119 331L118.2 332.9L118.6 335L118.8 337.1L118 339L119.7 340.3L121 342L122.5 343.5L124 345L125.1 346.9L125.8 348.8L126 351M145 307L146.1 308.6L147.4 310.1L148.9 311.4L150 313L151.3 314.5L153.1 314.8L155.1 314.8L156.5 316.1L158 317L160.1 316.9L161.9 315.7L164.1 315.8L166 315L166.8 313.1L168.5 312.1L170 311M160 317L160.5 319.2L162 321L163.4 322.1L164.9 323.2L166.8 323.6L168 325L169.2 326.6L170.3 328.2L171.9 329.6L172.6 331.5L174 333L176 332L178 331M174 333L173.9 335L175 336.5L175.8 338.1L176.8 339.7L177.3 341.4L177.1 343.4L178 345L179.1 346.9L179.6 348.9L180 350.9L180 353L179.5 355L178.5 356.9L178.3 359L178 361L176.8 362.4L177 364.5L176.3 366.1L174.4 367.2L174 369L174.5 371L174.2 373L175 375L175 377L176.1 378.4L176.5 380.1L177.4 381.6L176.8 383.6L178 385M145 364L146.1 365.4L147.5 366.5L148.6 368L149.8 369.2L151.3 370.2L152 372L152.7 374L154.3 375.3L155 377.2L156.9 378.3L158 380L158.8 382.1L160.3 383.8L161 386L161 387.8L159.2 389L158.7 390.6L158.9 392.5L158 394L156 394.7L154.5 396L153.4 397.8L151.5 398.7L150 400M150 400L148.2 401.2L147.6 403.2L145.9 404.4L145.5 406.6L144 408L142.4 408.8L140.5 409L139 410L138.8 411.7L138.1 413.3L136.7 414.6L136.6 416.4L136 418M220 320L221.2 321.6L223.2 322.2L224.8 323.4L226 325L227.9 324.1L229.9 323.2L232 323L233.9 322.8L235.1 321.1L236.8 320.7L238.1 319.3L240 319L242 318.5L244 317.8L246 317.4L248 317M248 317L248.1 315.1L248.8 313.5L250.5 312.2L250.5 310.3L251 308.5L252 307L250.9 305.5L250.4 303.8L249.6 302.1L248.7 300.6L248.9 298.6L248 297L248.2 295.3L248.3 293.5L249.2 292M248 317L249.3 318.7L251.4 319.6L252.7 321.3L254 323L255.8 324.1L258.2 323.8L260 325L261.5 323.7L263.5 323L265.1 321.8L266.1 319.8L268 319L269.5 318L271.3 317.7L272.7 316.4L274.7 316.4L276 315L277.3 313.4L279.6 313.1L280.8 311.4L282.2 309.9L284 309L285.4 310.3L287.1 311.3L288 313M284 309L283.5 307.3L282.1 306L282.1 303.9L280.9 302.5L280 301L280.3 299L280.6 296.9L281.7 295L282 293L281.8 292M288 313L288.8 314.9L288.3 317.1L289.8 318.9L289.6 321L290 323L289.1 324.6L288.7 326.4L287.2 327.6L287 329.5L286 331L286.4 333.1L287.2 335L288 337L289.8 338L291.3 339.3L293.2 340.1L294.7 341.4L296 343L297 344.7L298.9 345.5L300 347M286 351L288 350.8L289.9 349.6L292 349.9L294 349.2L296 349L297.6 348.2L299.1 347.1L300.5 346L302.3 345.5L304 345L305.9 344.1L307.9 343.5L310.1 343.8L312 343L314.1 343.2L316 343.9L317.9 345.1L320 345M248 379L249.4 380.5L250.9 381.9L252.5 383L254.7 383.4L256 385L258.1 385.2L260.2 385.3L261.9 386.8L264 387L266.1 386.7L267.9 385.8L270 385.4L272 385L273.6 387L275.6 388.6M300 347L300.5 348.7L301.9 350L301.9 352L303.4 353.3L304 355L303.2 356.6L303.1 358.5L302.5 360.2L300.8 361.4L300.3 363.2L300 365L300.5 366.7L302.2 367.9L303 369.4L303.6 371.1L303.9 372.9M320 309L321.9 309.6L323.5 310.7L325.1 311.8L327 312.4L328.5 313.8L330 315L331 316.6L332.7 317.6L333 319.6L334.5 320.8L335.5 322.3L337.1 323.3L338 325L338.6 327L338.7 329.1L339.7 330.9L340 333L342.2 333L343.8 334.8L346 335L347.7 334.3L348.8 332.7L350.1 331.4L352 331M353.2 292L353.1 294.6L354 297L353.7 298.7L354.4 300.5L354 302.2L354 303.9L352.9 305.5L353.6 307.3L353 309L352.2 310.7L352.3 312.4L353.2 314.2L352.1 315.8L352.4 317.6L351.8 319.3L352 321L353.4 322.2L355.3 322.3L357.1 322.8L358.1 324.8L360 325L361.2 326.4L361.8 328.3L363.2 329.5L364.3 330.9L365.3 332.5L366.7 333.7L368 335L369.4 336.3L371.1 337.2L372 339M320 345L322.1 344.6L324 343.6L326 343L328 343.7L329.8 344.9L332 345M383.8 292L384 293L385.7 293.9L386.4 295.9L388 297L389.8 295.7L392.1 296L394 295M411 305L411 306.8L412.2 308.3L412.2 310.2L412 312L412.9 313.6L413.5 315.3L414 317L415.7 317.7L417.4 318.5L418.6 319.8L420 321L419.6 323L419.4 325.1L418.8 327.1L418 329L418.9 330.9L418.5 333.1L418.9 335.1L420 336.9L420 339L420.8 340.9L420.8 343L421.3 345L421 347.1L422 349L421.4 350.7L420.7 352.3L419.1 353.5L419.3 355.6L418 357L417.8 358.7L417.9 360.5L417.1 362.2L417.3 364L416.9 365.7L417.1 367.5M404 317L406.1 317L407.9 318.2L410 318.6L412 319L414 319.4L415.9 320.4L417.9 321L420 321M443.5 292L444 293L445.5 294.7L446 297M474.5 292L476 293.3L477 295L476.2 296.7L475.4 298.4L474.6 300.1L473.3 301.6L472 303L473.1 304.9L473 307.1L474 309L476 309.3L478.1 309.2L480.1 309.9L482 310.6L484 311L485.9 310.1L487.8 309.2L490 309L490.5 307.2L491.4 305.8L493.6 305.3L494.3 303.7L494.5 301.8L496.3 300.9L497.6 299.8L498 298M662.9 315.1L664.6 314.6L666 313.3L667.9 313.2L669.5 312.5L671.1 311.6L672.9 311.4L674.9 311.7L677 311.1L678.9 312.7L681 312.6L683 312.6L684.9 312.8L686.8 313.3L688.6 312.8L690.5 312.2L692.4 312.2L694.2 312.1L696.1 311.9L698 312.6M236 426L237.1 424.1L237.8 422.2L238 420L236.5 418.9L235 417.7L234 416L233 414.3L232 412.5L230.9 410.8L228.8 409.9L228 408M244 132L245.9 132L247.7 131.7L249.5 131.2L251.1 130.1L253 130L254.8 129L256.9 129.5L258.6 128.2L260.5 127.8L262.5 127.5L264.2 127.5L265.9 127.1L267.6 127.7L269.3 126.7L271 127L272.9 126L275 126.4L277 126.1L279 125.6"/>
</g>
<g>
<ellipse cx="89.8" cy="222.3" rx="11.8" ry="11.8" fill="#000" opacity=".24" filter="url(#sh)"/><path d="M78 220.3v2.3A11.5 10.3 0 0 0 101 222.7v-2.3z" fill="#a4242a"/><ellipse cx="89.5" cy="220.3" rx="11.5" ry="10.3" fill="#e53238"/><path d="M89.5 220.3L89.5 210A11.5 10.3 0 0 1 101 220.3z" fill="#ffe66e"/><path d="M89.5 220.3L78 220A11.5 10.3 0 0 1 79 216.1z" fill="#3a7fc0"/><path d="M89.5 220.3L79 216.1A11.5 10.3 0 0 1 81.5 212.9z" fill="#4dae4c"/><path d="M89.5 220.3L81.5 212.9A11.5 10.3 0 0 1 85 210.8z" fill="#9a50ab"/><path d="M89.5 220.3L85 210.8A11.5 10.3 0 0 1 89.5 210z" fill="#ff7f0e"/>
<ellipse cx="94.3" cy="247.8" rx="13.7" ry="13.7" fill="#000" opacity=".24" filter="url(#sh)"/><path d="M80.6 245.7v2.7A13.4 12.1 0 0 0 107.4 248.3v-2.7z" fill="#a4242a"/><ellipse cx="94" cy="245.7" rx="13.4" ry="12.1" fill="#e53238"/><path d="M94 245.7L94 233.6A13.4 12.1 0 0 1 107.4 246.1z" fill="#ffe66e"/><path d="M94 245.7L80.6 245.2A13.4 12.1 0 0 1 81.8 240.8z" fill="#3a7fc0"/><path d="M94 245.7L81.8 240.8A13.4 12.1 0 0 1 84.7 237z" fill="#4dae4c"/><path d="M94 245.7L84.7 237A13.4 12.1 0 0 1 88.8 234.5z" fill="#9a50ab"/><path d="M94 245.7L88.8 234.5A13.4 12.1 0 0 1 94 233.6z" fill="#ff7f0e"/>
<ellipse cx="134.6" cy="232.9" rx="10" ry="10" fill="#000" opacity=".24" filter="url(#sh)"/><path d="M124.6 231.1v1.9A9.7 8.7 0 0 0 144 233.1v-1.9z" fill="#a4242a"/><ellipse cx="134.3" cy="231.1" rx="9.7" ry="8.7" fill="#e53238"/><path d="M134.3 231.1L134.3 222.4A9.7 8.7 0 0 1 143.8 229.3z" fill="#ffe66e"/><path d="M134.3 231.1L124.8 229.3A9.7 8.7 0 0 1 126 226.6z" fill="#3a7fc0"/><path d="M134.3 231.1L126 226.6A9.7 8.7 0 0 1 128.2 224.3z" fill="#4dae4c"/><path d="M134.3 231.1L128.2 224.3A9.7 8.7 0 0 1 130.9 222.9z" fill="#9a50ab"/><path d="M134.3 231.1L130.9 222.9A9.7 8.7 0 0 1 134.3 222.4z" fill="#ff7f0e"/>
<ellipse cx="167.3" cy="232.8" rx="14.3" ry="14.3" fill="#000" opacity=".24" filter="url(#sh)"/><path d="M153 230.6v2.8A14 12.6 0 0 0 181 233.4v-2.8z" fill="#a4242a"/><ellipse cx="167" cy="230.6" rx="14" ry="12.6" fill="#e53238"/><path d="M167 230.6L167 218A14 12.6 0 0 1 181 231z" fill="#ffe66e"/><path d="M167 230.6L153.1 228.8A14 12.6 0 0 1 154.7 224.6z" fill="#3a7fc0"/><path d="M167 230.6L154.7 224.6A14 12.6 0 0 1 157.8 221.1z" fill="#4dae4c"/><path d="M167 230.6L157.8 221.1A14 12.6 0 0 1 161.9 218.9z" fill="#9a50ab"/><path d="M167 230.6L161.9 218.9A14 12.6 0 0 1 167 218z" fill="#ff7f0e"/>
<ellipse cx="154.6" cy="264.5" rx="14" ry="14" fill="#000" opacity=".24" filter="url(#sh)"/><path d="M140.6 262.3v2.7A13.7 12.3 0 0 0 168 265.1v-2.7z" fill="#a4242a"/><ellipse cx="154.3" cy="262.3" rx="13.7" ry="12.3" fill="#e53238"/><path d="M154.3 262.3L154.3 250A13.7 12.3 0 0 1 168 262.3z" fill="#ffe66e"/><path d="M154.3 262.3L140.9 260A13.7 12.3 0 0 1 142.5 256z" fill="#3a7fc0"/><path d="M154.3 262.3L142.5 256A13.7 12.3 0 0 1 145.6 252.8z" fill="#4dae4c"/><path d="M154.3 262.3L145.6 252.8A13.7 12.3 0 0 1 149.5 250.8z" fill="#9a50ab"/><path d="M154.3 262.3L149.5 250.8A13.7 12.3 0 0 1 154.3 250z" fill="#ff7f0e"/>
<ellipse cx="70.5" cy="285.2" rx="14.1" ry="14.1" fill="#000" opacity=".24" filter="url(#sh)"/><path d="M56.4 283v2.8A13.8 12.4 0 0 0 84 285.8v-2.8z" fill="#a4242a"/><ellipse cx="70.2" cy="283" rx="13.8" ry="12.4" fill="#e53238"/><path d="M70.2 283L70.2 270.6A13.8 12.4 0 0 1 84 282.6z" fill="#ffe66e"/><path d="M70.2 283L56.6 285.2A13.8 12.4 0 0 1 56.9 279.8z" fill="#3a7fc0"/><path d="M70.2 283L56.9 279.8A13.8 12.4 0 0 1 59.6 275z" fill="#4dae4c"/><path d="M70.2 283L59.6 275A13.8 12.4 0 0 1 64.2 271.9z" fill="#9a50ab"/><path d="M70.2 283L64.2 271.9A13.8 12.4 0 0 1 70.2 270.6z" fill="#ff7f0e"/>
<ellipse cx="127.5" cy="291" rx="20.1" ry="20.1" fill="#000" opacity=".24" filter="url(#sh)"/><path d="M107.4 288.2v4A19.8 17.8 0 0 0 147 292.2v-4z" fill="#a4242a"/><ellipse cx="127.2" cy="288.2" rx="19.8" ry="17.8" fill="#e53238"/><path d="M127.2 288.2L127.2 270.4A19.8 17.8 0 0 1 147 289.2z" fill="#ffe66e"/><path d="M127.2 288.2L107.4 288.2A19.8 17.8 0 0 1 108.9 281.4z" fill="#3a7fc0"/><path d="M127.2 288.2L108.9 281.4A19.8 17.8 0 0 1 113.2 275.6z" fill="#4dae4c"/><path d="M127.2 288.2L113.2 275.6A19.8 17.8 0 0 1 119.3 271.9z" fill="#9a50ab"/><path d="M127.2 288.2L119.3 271.9A19.8 17.8 0 0 1 127.2 270.4z" fill="#ff7f0e"/>
<ellipse cx="160.8" cy="293.9" rx="11.4" ry="11.4" fill="#000" opacity=".24" filter="url(#sh)"/><path d="M149.4 292v2.2A11.1 10 0 0 0 171.6 294.2v-2.2z" fill="#a4242a"/><ellipse cx="160.5" cy="292" rx="11.1" ry="10" fill="#e53238"/><path d="M160.5 292L160.5 282A11.1 10 0 0 1 171.6 292.5z" fill="#ffe66e"/><path d="M160.5 292L149.4 291.5A11.1 10 0 0 1 150.4 287.8z" fill="#3a7fc0"/><path d="M160.5 292L150.4 287.8A11.1 10 0 0 1 152.9 284.7z" fill="#4dae4c"/><path d="M160.5 292L152.9 284.7A11.1 10 0 0 1 156.2 282.8z" fill="#9a50ab"/><path d="M160.5 292L156.2 282.8A11.1 10 0 0 1 160.5 282z" fill="#ff7f0e"/>
<ellipse cx="95.6" cy="305.9" rx="12.4" ry="12.4" fill="#000" opacity=".24" filter="url(#sh)"/><path d="M83.2 303.9v2.4A12.1 10.9 0 0 0 107.4 306.3v-2.4z" fill="#a4242a"/><ellipse cx="95.3" cy="303.9" rx="12.1" ry="10.9" fill="#e53238"/><path d="M95.3 303.9L95.3 293A12.1 10.9 0 0 1 107.4 303.9z" fill="#ffe66e"/><path d="M95.3 303.9L83.2 302.9A12.1 10.9 0 0 1 84.4 299.1z" fill="#3a7fc0"/><path d="M95.3 303.9L84.4 299.1A12.1 10.9 0 0 1 87.1 295.9z" fill="#4dae4c"/><path d="M95.3 303.9L87.1 295.9A12.1 10.9 0 0 1 90.7 293.8z" fill="#9a50ab"/><path d="M95.3 303.9L90.7 293.8A12.1 10.9 0 0 1 95.3 293z" fill="#ff7f0e"/>
<ellipse cx="295.8" cy="120.7" rx="17.2" ry="17.2" fill="#000" opacity=".24" filter="url(#sh)"/><path d="M278.6 118.2v3.4A16.9 15.2 0 0 0 312.4 121.6v-3.4z" fill="#a4242a"/><ellipse cx="295.5" cy="118.2" rx="16.9" ry="15.2" fill="#e53238"/><path d="M295.5 118.2L295.5 103A16.9 15.2 0 0 1 312.1 115.6z" fill="#ffe66e"/><path d="M295.5 118.2L278.8 120.3A16.9 15.2 0 0 1 279.3 113.9z" fill="#3a7fc0"/><path d="M295.5 118.2L279.3 113.9A16.9 15.2 0 0 1 282.7 108.2z" fill="#4dae4c"/><path d="M295.5 118.2L282.7 108.2A16.9 15.2 0 0 1 288.2 104.5z" fill="#9a50ab"/><path d="M295.5 118.2L288.2 104.5A16.9 15.2 0 0 1 295.5 103z" fill="#ff7f0e"/>
<ellipse cx="296.6" cy="139.1" rx="10" ry="10" fill="#000" opacity=".24" filter="url(#sh)"/><path d="M286.6 137.3v1.9A9.7 8.7 0 0 0 306 139.3v-1.9z" fill="#a4242a"/><ellipse cx="296.3" cy="137.3" rx="9.7" ry="8.7" fill="#e53238"/><path d="M296.3 137.3L296.3 128.6A9.7 8.7 0 0 1 306 136.6z" fill="#ffe66e"/><path d="M296.3 137.3L286.9 135.1A9.7 8.7 0 0 1 288.2 132.5z" fill="#3a7fc0"/><path d="M296.3 137.3L288.2 132.5A9.7 8.7 0 0 1 290.4 130.4z" fill="#4dae4c"/><path d="M296.3 137.3L290.4 130.4A9.7 8.7 0 0 1 293.1 129.1z" fill="#9a50ab"/><path d="M296.3 137.3L293.1 129.1A9.7 8.7 0 0 1 296.3 128.6z" fill="#ff7f0e"/>
<ellipse cx="261.6" cy="146.5" rx="10" ry="10" fill="#000" opacity=".24" filter="url(#sh)"/><path d="M251.6 144.7v1.9A9.7 8.7 0 0 0 271 146.7v-1.9z" fill="#a4242a"/><ellipse cx="261.3" cy="144.7" rx="9.7" ry="8.7" fill="#e53238"/><path d="M261.3 144.7L261.3 136A9.7 8.7 0 0 1 270.9 143.2z" fill="#ffe66e"/><path d="M261.3 144.7L251.7 143.2A9.7 8.7 0 0 1 252.9 140.4z" fill="#3a7fc0"/><path d="M261.3 144.7L252.9 140.4A9.7 8.7 0 0 1 255.1 138z" fill="#4dae4c"/><path d="M261.3 144.7L255.1 138A9.7 8.7 0 0 1 257.9 136.6z" fill="#9a50ab"/><path d="M261.3 144.7L257.9 136.6A9.7 8.7 0 0 1 261.3 136z" fill="#ff7f0e"/>
<ellipse cx="310" cy="193.5" rx="17" ry="17" fill="#000" opacity=".24" filter="url(#sh)"/><path d="M293 191v3.3A16.7 15 0 0 0 326.4 194.4v-3.3z" fill="#a4242a"/><ellipse cx="309.7" cy="191" rx="16.7" ry="15" fill="#e53238"/><path d="M309.7 191L309.7 176A16.7 15 0 0 1 326.4 191z" fill="#ffe66e"/><path d="M309.7 191L293 190.5A16.7 15 0 0 1 294.4 184.9z" fill="#3a7fc0"/><path d="M309.7 191L294.4 184.9A16.7 15 0 0 1 298.1 180.2z" fill="#4dae4c"/><path d="M309.7 191L298.1 180.2A16.7 15 0 0 1 303.2 177.2z" fill="#9a50ab"/><path d="M309.7 191L303.2 177.2A16.7 15 0 0 1 309.7 176z" fill="#ff7f0e"/>
<ellipse cx="291.1" cy="165" rx="24.5" ry="24.5" fill="#000" opacity=".24" filter="url(#sh)"/><path d="M266.6 161.8v4.8A24.2 21.8 0 0 0 315 166.6v-4.8z" fill="#a4242a"/><ellipse cx="290.8" cy="161.8" rx="24.2" ry="21.8" fill="#e53238"/><path d="M290.8 161.8L290.8 140A24.2 21.8 0 0 1 315 161.4z" fill="#ffe66e"/><path d="M290.8 161.8L266.7 159.5A24.2 21.8 0 0 1 269.2 151.9z" fill="#3a7fc0"/><path d="M290.8 161.8L269.2 151.9A24.2 21.8 0 0 1 274.6 145.6z" fill="#4dae4c"/><path d="M290.8 161.8L274.6 145.6A24.2 21.8 0 0 1 281.8 141.6z" fill="#9a50ab"/><path d="M290.8 161.8L281.8 141.6A24.2 21.8 0 0 1 290.8 140z" fill="#ff7f0e"/>
<ellipse cx="249.8" cy="168.1" rx="13.2" ry="13.2" fill="#000" opacity=".24" filter="url(#sh)"/><path d="M236.6 166v2.6A12.9 11.6 0 0 0 262.4 168.6v-2.6z" fill="#a4242a"/><ellipse cx="249.5" cy="166" rx="12.9" ry="11.6" fill="#e53238"/><path d="M249.5 166L249.5 154.4A12.9 11.6 0 0 1 262.4 165.4z" fill="#ffe66e"/><path d="M249.5 166L236.7 164.4A12.9 11.6 0 0 1 238.2 160.5z" fill="#3a7fc0"/><path d="M249.5 166L238.2 160.5A12.9 11.6 0 0 1 241 157.2z" fill="#4dae4c"/><path d="M249.5 166L241 157.2A12.9 11.6 0 0 1 244.8 155.2z" fill="#9a50ab"/><path d="M249.5 166L244.8 155.2A12.9 11.6 0 0 1 249.5 154.4z" fill="#ff7f0e"/>
<ellipse cx="228.5" cy="166" rx="11.5" ry="11.5" fill="#000" opacity=".24" filter="url(#sh)"/><path d="M217 164.1v2.2A11.2 10.1 0 0 0 239.4 166.3v-2.2z" fill="#a4242a"/><ellipse cx="228.2" cy="164.1" rx="11.2" ry="10.1" fill="#e53238"/><path d="M228.2 164.1L228.2 154A11.2 10.1 0 0 1 239.2 162.3z" fill="#ffe66e"/><path d="M228.2 164.1L217 164.1A11.2 10.1 0 0 1 217.9 160.2z" fill="#3a7fc0"/><path d="M228.2 164.1L217.9 160.2A11.2 10.1 0 0 1 220.3 157z" fill="#4dae4c"/><path d="M228.2 164.1L220.3 157A11.2 10.1 0 0 1 223.8 154.8z" fill="#9a50ab"/><path d="M228.2 164.1L223.8 154.8A11.2 10.1 0 0 1 228.2 154z" fill="#ff7f0e"/>
<ellipse cx="224.1" cy="193.2" rx="13.1" ry="13.1" fill="#000" opacity=".24" filter="url(#sh)"/><path d="M211 191.1v2.6A12.8 11.5 0 0 0 236.6 193.7v-2.6z" fill="#a4242a"/><ellipse cx="223.8" cy="191.1" rx="12.8" ry="11.5" fill="#e53238"/><path d="M223.8 191.1L223.8 179.6A12.8 11.5 0 0 1 236.4 189.3z" fill="#ffe66e"/><path d="M223.8 191.1L211 190.5A12.8 11.5 0 0 1 212.2 186.3z" fill="#3a7fc0"/><path d="M223.8 191.1L212.2 186.3A12.8 11.5 0 0 1 215 182.8z" fill="#4dae4c"/><path d="M223.8 191.1L215 182.8A12.8 11.5 0 0 1 218.9 180.5z" fill="#9a50ab"/><path d="M223.8 191.1L218.9 180.5A12.8 11.5 0 0 1 223.8 179.6z" fill="#ff7f0e"/>
<ellipse cx="197.4" cy="211.1" rx="18.8" ry="18.8" fill="#000" opacity=".24" filter="url(#sh)"/><path d="M178.6 208.5v3.7A18.5 16.7 0 0 0 215.6 212.2v-3.7z" fill="#a4242a"/><ellipse cx="197.1" cy="208.5" rx="18.5" ry="16.7" fill="#e53238"/><path d="M197.1 208.5L197.1 191.8A18.5 16.7 0 0 1 215.6 208.7z" fill="#ffe66e"/><path d="M197.1 208.5L178.6 209A18.5 16.7 0 0 1 179.8 202.5z" fill="#3a7fc0"/><path d="M197.1 208.5L179.8 202.5A18.5 16.7 0 0 1 183.8 196.9z" fill="#4dae4c"/><path d="M197.1 208.5L183.8 196.9A18.5 16.7 0 0 1 189.6 193.2z" fill="#9a50ab"/><path d="M197.1 208.5L189.6 193.2A18.5 16.7 0 0 1 197.1 191.8z" fill="#ff7f0e"/>
<ellipse cx="367.5" cy="121.6" rx="11.5" ry="11.5" fill="#000" opacity=".24" filter="url(#sh)"/><path d="M356 119.7v2.2A11.2 10.1 0 0 0 378.4 121.9v-2.2z" fill="#a4242a"/><ellipse cx="367.2" cy="119.7" rx="11.2" ry="10.1" fill="#e53238"/><path d="M367.2 119.7L367.2 109.6A11.2 10.1 0 0 1 378.4 118.8z" fill="#ffe66e"/><path d="M367.2 119.7L356.8 123.5A11.2 10.1 0 0 1 356.1 118.6z" fill="#3a7fc0"/><path d="M367.2 119.7L356.1 118.6A11.2 10.1 0 0 1 357.9 114z" fill="#4dae4c"/><path d="M367.2 119.7L357.9 114A11.2 10.1 0 0 1 361.7 110.9z" fill="#9a50ab"/><path d="M367.2 119.7L361.7 110.9A11.2 10.1 0 0 1 367.2 109.6z" fill="#ff7f0e"/>
<ellipse cx="399.5" cy="145.4" rx="9.5" ry="9.5" fill="#000" opacity=".24" filter="url(#sh)"/><path d="M390 143.7v1.8A9.2 8.3 0 0 0 408.4 145.5v-1.8z" fill="#a4242a"/><ellipse cx="399.2" cy="143.7" rx="9.2" ry="8.3" fill="#e53238"/><path d="M399.2 143.7L399.2 135.4A9.2 8.3 0 0 1 408.3 144.8z" fill="#ffe66e"/><path d="M399.2 143.7L390 143.1A9.2 8.3 0 0 1 390.9 140.1z" fill="#3a7fc0"/><path d="M399.2 143.7L390.9 140.1A9.2 8.3 0 0 1 392.9 137.6z" fill="#4dae4c"/><path d="M399.2 143.7L392.9 137.6A9.2 8.3 0 0 1 395.7 136z" fill="#9a50ab"/><path d="M399.2 143.7L395.7 136A9.2 8.3 0 0 1 399.2 135.4z" fill="#ff7f0e"/>
<ellipse cx="355.7" cy="158.8" rx="10.3" ry="10.3" fill="#000" opacity=".24" filter="url(#sh)"/><path d="M345.4 157v2A10 9 0 0 0 365.4 159v-2z" fill="#a4242a"/><ellipse cx="355.4" cy="157" rx="10" ry="9" fill="#e53238"/><path d="M355.4 157L355.4 148A10 9 0 0 1 365.4 156.7z" fill="#ffe66e"/><path d="M355.4 157L345.4 157.8A10 9 0 0 1 345.9 154.1z" fill="#3a7fc0"/><path d="M355.4 157L345.9 154.1A10 9 0 0 1 348 150.9z" fill="#4dae4c"/><path d="M355.4 157L348 150.9A10 9 0 0 1 351.2 148.8z" fill="#9a50ab"/><path d="M355.4 157L351.2 148.8A10 9 0 0 1 355.4 148z" fill="#ff7f0e"/>
<ellipse cx="348.6" cy="196.7" rx="13.6" ry="13.6" fill="#000" opacity=".24" filter="url(#sh)"/><path d="M335 194.6v2.7A13.3 12 0 0 0 361.6 197.2v-2.7z" fill="#a4242a"/><ellipse cx="348.3" cy="194.6" rx="13.3" ry="12" fill="#e53238"/><path d="M348.3 194.6L348.3 182.6A13.3 12 0 0 1 361.5 192.9z" fill="#ffe66e"/><path d="M348.3 194.6L335 193.7A13.3 12 0 0 1 336.3 189.4z" fill="#3a7fc0"/><path d="M348.3 194.6L336.3 189.4A13.3 12 0 0 1 339.2 185.8z" fill="#4dae4c"/><path d="M348.3 194.6L339.2 185.8A13.3 12 0 0 1 343.2 183.5z" fill="#9a50ab"/><path d="M348.3 194.6L343.2 183.5A13.3 12 0 0 1 348.3 182.6z" fill="#ff7f0e"/>
<ellipse cx="404.1" cy="195.6" rx="15.1" ry="15.1" fill="#000" opacity=".24" filter="url(#sh)"/><path d="M389 193.3v3A14.8 13.3 0 0 0 418.6 196.3v-3z" fill="#a4242a"/><ellipse cx="403.8" cy="193.3" rx="14.8" ry="13.3" fill="#e53238"/><path d="M403.8 193.3L403.8 180A14.8 13.3 0 0 1 418.6 192.4z" fill="#ffe66e"/><path d="M403.8 193.3L389 192.4A14.8 13.3 0 0 1 390.4 187.6z" fill="#3a7fc0"/><path d="M403.8 193.3L390.4 187.6A14.8 13.3 0 0 1 393.7 183.6z" fill="#4dae4c"/><path d="M403.8 193.3L393.7 183.6A14.8 13.3 0 0 1 398.2 181z" fill="#9a50ab"/><path d="M403.8 193.3L398.2 181A14.8 13.3 0 0 1 403.8 180z" fill="#ff7f0e"/>
<ellipse cx="462.1" cy="193.4" rx="16.5" ry="16.5" fill="#000" opacity=".24" filter="url(#sh)"/><path d="M445.6 191v3.2A16.2 14.6 0 0 0 478 194.2v-3.2z" fill="#a4242a"/><ellipse cx="461.8" cy="191" rx="16.2" ry="14.6" fill="#e53238"/><path d="M461.8 191L461.8 176.4A16.2 14.6 0 0 1 478 190z" fill="#ffe66e"/><path d="M461.8 191L445.6 190.5A16.2 14.6 0 0 1 447 185z" fill="#3a7fc0"/><path d="M461.8 191L447 185A16.2 14.6 0 0 1 450.5 180.5z" fill="#4dae4c"/><path d="M461.8 191L450.5 180.5A16.2 14.6 0 0 1 455.5 177.5z" fill="#9a50ab"/><path d="M461.8 191L455.5 177.5A16.2 14.6 0 0 1 461.8 176.4z" fill="#ff7f0e"/>
<ellipse cx="494.2" cy="172.7" rx="12.8" ry="12.8" fill="#000" opacity=".24" filter="url(#sh)"/><path d="M481.4 170.7v2.5A12.5 11.2 0 0 0 506.4 173.2v-2.5z" fill="#a4242a"/><ellipse cx="493.9" cy="170.7" rx="12.5" ry="11.2" fill="#e53238"/><path d="M493.9 170.7L493.9 159.4A12.5 11.2 0 0 1 506.4 169.7z" fill="#ffe66e"/><path d="M493.9 170.7L481.7 173A12.5 11.2 0 0 1 481.7 168z" fill="#3a7fc0"/><path d="M493.9 170.7L481.7 168A12.5 11.2 0 0 1 484.2 163.6z" fill="#4dae4c"/><path d="M493.9 170.7L484.2 163.6A12.5 11.2 0 0 1 488.3 160.6z" fill="#9a50ab"/><path d="M493.9 170.7L488.3 160.6A12.5 11.2 0 0 1 493.9 159.4z" fill="#ff7f0e"/>
<ellipse cx="527.9" cy="157.8" rx="11.3" ry="11.3" fill="#000" opacity=".24" filter="url(#sh)"/><path d="M516.6 155.9v2.2A11 9.9 0 0 0 538.6 158.1v-2.2z" fill="#a4242a"/><ellipse cx="527.6" cy="155.9" rx="11" ry="9.9" fill="#e53238"/><path d="M527.6 155.9L527.6 146A11 9.9 0 0 1 538.4 154z" fill="#ffe66e"/><path d="M527.6 155.9L516.6 156.2A11 9.9 0 0 1 517.3 152.4z" fill="#3a7fc0"/><path d="M527.6 155.9L517.3 152.4A11 9.9 0 0 1 519.7 149z" fill="#4dae4c"/><path d="M527.6 155.9L519.7 149A11 9.9 0 0 1 523.1 146.9z" fill="#9a50ab"/><path d="M527.6 155.9L523.1 146.9A11 9.9 0 0 1 527.6 146z" fill="#ff7f0e"/>
<ellipse cx="597.3" cy="163" rx="13.9" ry="13.9" fill="#000" opacity=".24" filter="url(#sh)"/><path d="M583.4 160.8v2.7A13.6 12.2 0 0 0 610.6 163.6v-2.7z" fill="#a4242a"/><ellipse cx="597" cy="160.8" rx="13.6" ry="12.2" fill="#e53238"/><path d="M597 160.8L597 148.6A13.6 12.2 0 0 1 610.6 160.8z" fill="#ffe66e"/><path d="M597 160.8L583.4 160A13.6 12.2 0 0 1 584.7 155.6z" fill="#3a7fc0"/><path d="M597 160.8L584.7 155.6A13.6 12.2 0 0 1 587.7 151.9z" fill="#4dae4c"/><path d="M597 160.8L587.7 151.9A13.6 12.2 0 0 1 591.8 149.5z" fill="#9a50ab"/><path d="M597 160.8L591.8 149.5A13.6 12.2 0 0 1 597 148.6z" fill="#ff7f0e"/>
<ellipse cx="559.6" cy="188.5" rx="11.6" ry="11.6" fill="#000" opacity=".24" filter="url(#sh)"/><path d="M548 186.6v2.3A11.3 10.2 0 0 0 570.6 188.8v-2.3z" fill="#a4242a"/><ellipse cx="559.3" cy="186.6" rx="11.3" ry="10.2" fill="#e53238"/><path d="M559.3 186.6L559.3 176.4A11.3 10.2 0 0 1 570.5 185.2z" fill="#ffe66e"/><path d="M559.3 186.6L548 187.5A11.3 10.2 0 0 1 548.6 183.3z" fill="#3a7fc0"/><path d="M559.3 186.6L548.6 183.3A11.3 10.2 0 0 1 551 179.7z" fill="#4dae4c"/><path d="M559.3 186.6L551 179.7A11.3 10.2 0 0 1 554.6 177.3z" fill="#9a50ab"/><path d="M559.3 186.6L554.6 177.3A11.3 10.2 0 0 1 559.3 176.4z" fill="#ff7f0e"/>
<ellipse cx="524.6" cy="205.1" rx="9.6" ry="9.6" fill="#000" opacity=".24" filter="url(#sh)"/><path d="M515 203.4v1.9A9.3 8.4 0 0 0 533.6 205.2v-1.9z" fill="#a4242a"/><ellipse cx="524.3" cy="203.4" rx="9.3" ry="8.4" fill="#e53238"/><path d="M524.3 203.4L524.3 195A9.3 8.4 0 0 1 533.6 203.1z" fill="#ffe66e"/><path d="M524.3 203.4L515 202.6A9.3 8.4 0 0 1 516 199.7z" fill="#3a7fc0"/><path d="M524.3 203.4L516 199.7A9.3 8.4 0 0 1 518 197.2z" fill="#4dae4c"/><path d="M524.3 203.4L518 197.2A9.3 8.4 0 0 1 520.8 195.6z" fill="#9a50ab"/><path d="M524.3 203.4L520.8 195.6A9.3 8.4 0 0 1 524.3 195z" fill="#ff7f0e"/>
<ellipse cx="589.1" cy="218.6" rx="22.5" ry="22.5" fill="#000" opacity=".24" filter="url(#sh)"/><path d="M566.6 215.6v4.4A22.2 20 0 0 0 611 220v-4.4z" fill="#a4242a"/><ellipse cx="588.8" cy="215.6" rx="22.2" ry="20" fill="#e53238"/><path d="M588.8 215.6L588.8 195.6A22.2 20 0 0 1 610.9 213.8z" fill="#ffe66e"/><path d="M588.8 215.6L566.6 214.9A22.2 20 0 0 1 568.5 207.5z" fill="#3a7fc0"/><path d="M588.8 215.6L568.5 207.5A22.2 20 0 0 1 573.4 201.2z" fill="#4dae4c"/><path d="M588.8 215.6L573.4 201.2A22.2 20 0 0 1 580.2 197.2z" fill="#9a50ab"/><path d="M588.8 215.6L580.2 197.2A22.2 20 0 0 1 588.8 195.6z" fill="#ff7f0e"/>
<ellipse cx="514" cy="228.9" rx="16" ry="16" fill="#000" opacity=".24" filter="url(#sh)"/><path d="M498 226.5v3.1A15.7 14.1 0 0 0 529.4 229.7v-3.1z" fill="#a4242a"/><ellipse cx="513.7" cy="226.5" rx="15.7" ry="14.1" fill="#e53238"/><path d="M513.7 226.5L513.7 212.4A15.7 14.1 0 0 1 529.4 226z" fill="#ffe66e"/><path d="M513.7 226.5L498 226A15.7 14.1 0 0 1 499.4 220.8z" fill="#3a7fc0"/><path d="M513.7 226.5L499.4 220.8A15.7 14.1 0 0 1 502.8 216.4z" fill="#4dae4c"/><path d="M513.7 226.5L502.8 216.4A15.7 14.1 0 0 1 507.6 213.5z" fill="#9a50ab"/><path d="M513.7 226.5L507.6 213.5A15.7 14.1 0 0 1 513.7 212.4z" fill="#ff7f0e"/>
<ellipse cx="633.8" cy="163.7" rx="9.8" ry="9.8" fill="#000" opacity=".24" filter="url(#sh)"/><path d="M624 162v1.9A9.5 8.6 0 0 0 643 163.9v-1.9z" fill="#a4242a"/><ellipse cx="633.5" cy="162" rx="9.5" ry="8.6" fill="#e53238"/><path d="M633.5 162L633.5 153.4A9.5 8.6 0 0 1 642.9 160.5z" fill="#ffe66e"/><path d="M633.5 162L624.9 158.3A9.5 8.6 0 0 1 626.4 156.3z" fill="#3a7fc0"/><path d="M633.5 162L626.4 156.3A9.5 8.6 0 0 1 628.4 154.7z" fill="#4dae4c"/><path d="M633.5 162L628.4 154.7A9.5 8.6 0 0 1 630.7 153.8z" fill="#9a50ab"/><path d="M633.5 162L630.7 153.8A9.5 8.6 0 0 1 633.5 153.4z" fill="#ff7f0e"/>
<ellipse cx="639.1" cy="230.4" rx="14.5" ry="14.5" fill="#000" opacity=".24" filter="url(#sh)"/><path d="M624.6 228.2v2.8A14.2 12.8 0 0 0 653 231v-2.8z" fill="#a4242a"/><ellipse cx="638.8" cy="228.2" rx="14.2" ry="12.8" fill="#e53238"/><path d="M638.8 228.2L638.8 215.4A14.2 12.8 0 0 1 652.7 225.5z" fill="#ffe66e"/><path d="M638.8 228.2L625 225.3A14.2 12.8 0 0 1 626.8 221.4z" fill="#3a7fc0"/><path d="M638.8 228.2L626.8 221.4A14.2 12.8 0 0 1 630 218.2z" fill="#4dae4c"/><path d="M638.8 228.2L630 218.2A14.2 12.8 0 0 1 633.9 216.2z" fill="#9a50ab"/><path d="M638.8 228.2L633.9 216.2A14.2 12.8 0 0 1 638.8 215.4z" fill="#ff7f0e"/>
<ellipse cx="650.8" cy="179.7" rx="8.8" ry="8.8" fill="#000" opacity=".24" filter="url(#sh)"/><path d="M642 178.1v1.7A8.5 7.7 0 0 0 659 179.8v-1.7z" fill="#a4242a"/><ellipse cx="650.5" cy="178.1" rx="8.5" ry="7.7" fill="#e53238"/><path d="M650.5 178.1L650.5 170.4A8.5 7.7 0 0 1 659 177.6z" fill="#ffe66e"/><path d="M650.5 178.1L642.5 175.4A8.5 7.7 0 0 1 643.8 173.4z" fill="#3a7fc0"/><path d="M650.5 178.1L643.8 173.4A8.5 7.7 0 0 1 645.6 171.8z" fill="#4dae4c"/><path d="M650.5 178.1L645.6 171.8A8.5 7.7 0 0 1 647.8 170.8z" fill="#9a50ab"/><path d="M650.5 178.1L647.8 170.8A8.5 7.7 0 0 1 650.5 170.4z" fill="#ff7f0e"/>
<ellipse cx="678.1" cy="177" rx="8.5" ry="8.5" fill="#000" opacity=".24" filter="url(#sh)"/><path d="M669.6 175.4v1.6A8.2 7.4 0 0 0 686 177v-1.6z" fill="#a4242a"/><ellipse cx="677.8" cy="175.4" rx="8.2" ry="7.4" fill="#e53238"/><path d="M677.8 175.4L677.8 168A8.2 7.4 0 0 1 685.2 172.3z" fill="#ffe66e"/><path d="M677.8 175.4L671.1 171.1A8.2 7.4 0 0 1 672.4 169.8z" fill="#3a7fc0"/><path d="M677.8 175.4L672.4 169.8A8.2 7.4 0 0 1 674 168.8z" fill="#4dae4c"/><path d="M677.8 175.4L674 168.8A8.2 7.4 0 0 1 675.8 168.2z" fill="#9a50ab"/><path d="M677.8 175.4L675.8 168.2A8.2 7.4 0 0 1 677.8 168z" fill="#ff7f0e"/>
<ellipse cx="680.1" cy="219.4" rx="13.5" ry="13.5" fill="#000" opacity=".24" filter="url(#sh)"/><path d="M666.6 217.3v2.6A13.2 11.9 0 0 0 693 219.9v-2.6z" fill="#a4242a"/><ellipse cx="679.8" cy="217.3" rx="13.2" ry="11.9" fill="#e53238"/><path d="M679.8 217.3L679.8 205.4A13.2 11.9 0 0 1 692.6 214.2z" fill="#ffe66e"/><path d="M679.8 217.3L667.8 212.3A13.2 11.9 0 0 1 669.9 209.4z" fill="#3a7fc0"/><path d="M679.8 217.3L669.9 209.4A13.2 11.9 0 0 1 672.7 207.3z" fill="#4dae4c"/><path d="M679.8 217.3L672.7 207.3A13.2 11.9 0 0 1 676 205.9z" fill="#9a50ab"/><path d="M679.8 217.3L676 205.9A13.2 11.9 0 0 1 679.8 205.4z" fill="#ff7f0e"/>
<ellipse cx="721.6" cy="217.5" rx="11" ry="11" fill="#000" opacity=".24" filter="url(#sh)"/><path d="M710.6 215.6v2.1A10.7 9.6 0 0 0 732 217.8v-2.1z" fill="#a4242a"/><ellipse cx="721.3" cy="215.6" rx="10.7" ry="9.6" fill="#e53238"/><path d="M721.3 215.6L721.3 206A10.7 9.6 0 0 1 730.7 211.1z" fill="#ffe66e"/><path d="M721.3 215.6L712 210.8A10.7 9.6 0 0 1 713.7 208.8z" fill="#3a7fc0"/><path d="M721.3 215.6L713.7 208.8A10.7 9.6 0 0 1 716 207.3z" fill="#4dae4c"/><path d="M721.3 215.6L716 207.3A10.7 9.6 0 0 1 718.4 206.4z" fill="#9a50ab"/><path d="M721.3 215.6L718.4 206.4A10.7 9.6 0 0 1 721.3 206z" fill="#ff7f0e"/>
<ellipse cx="220.9" cy="237.8" rx="10.9" ry="10.9" fill="#000" opacity=".24" filter="url(#sh)"/><path d="M210 235.9v2.1A10.6 9.5 0 0 0 231.2 238.1v-2.1z" fill="#a4242a"/><ellipse cx="220.6" cy="235.9" rx="10.6" ry="9.5" fill="#e53238"/><path d="M220.6 235.9L220.6 226.4A10.6 9.5 0 0 1 231.2 235.9z" fill="#ffe66e"/><path d="M220.6 235.9L210.3 233.8A10.6 9.5 0 0 1 211.6 230.8z" fill="#3a7fc0"/><path d="M220.6 235.9L211.6 230.8A10.6 9.5 0 0 1 214 228.5z" fill="#4dae4c"/><path d="M220.6 235.9L214 228.5A10.6 9.5 0 0 1 217 227z" fill="#9a50ab"/><path d="M220.6 235.9L217 227A10.6 9.5 0 0 1 220.6 226.4z" fill="#ff7f0e"/>
<ellipse cx="261.2" cy="237.9" rx="21.8" ry="21.8" fill="#000" opacity=".24" filter="url(#sh)"/><path d="M239.4 234.9v4.3A21.5 19.4 0 0 0 282.4 239.2v-4.3z" fill="#a4242a"/><ellipse cx="260.9" cy="234.9" rx="21.5" ry="19.4" fill="#e53238"/><path d="M260.9 234.9L260.9 215.6A21.5 19.4 0 0 1 282.4 234.6z" fill="#ffe66e"/><path d="M260.9 234.9L239.7 231.9A21.5 19.4 0 0 1 242.1 225.5z" fill="#3a7fc0"/><path d="M260.9 234.9L242.1 225.5A21.5 19.4 0 0 1 246.9 220.2z" fill="#4dae4c"/><path d="M260.9 234.9L246.9 220.2A21.5 19.4 0 0 1 253.2 216.9z" fill="#9a50ab"/><path d="M260.9 234.9L253.2 216.9A21.5 19.4 0 0 1 260.9 215.6z" fill="#ff7f0e"/>
<ellipse cx="296.7" cy="226" rx="9.1" ry="9.1" fill="#000" opacity=".24" filter="url(#sh)"/><path d="M287.6 224.3v1.8A8.8 7.9 0 0 0 305.2 226.1v-1.8z" fill="#a4242a"/><ellipse cx="296.4" cy="224.3" rx="8.8" ry="7.9" fill="#e53238"/><path d="M296.4 224.3L296.4 216.4A8.8 7.9 0 0 1 305.2 224.3z" fill="#ffe66e"/><path d="M296.4 224.3L287.7 222.9A8.8 7.9 0 0 1 288.8 220.4z" fill="#3a7fc0"/><path d="M296.4 224.3L288.8 220.4A8.8 7.9 0 0 1 290.7 218.3z" fill="#4dae4c"/><path d="M296.4 224.3L290.7 218.3A8.8 7.9 0 0 1 293.3 216.9z" fill="#9a50ab"/><path d="M296.4 224.3L293.3 216.9A8.8 7.9 0 0 1 296.4 216.4z" fill="#ff7f0e"/>
<ellipse cx="341.1" cy="246.6" rx="18.1" ry="18.1" fill="#000" opacity=".24" filter="url(#sh)"/><path d="M323 244v3.6A17.8 16 0 0 0 358.6 247.6v-3.6z" fill="#a4242a"/><ellipse cx="340.8" cy="244" rx="17.8" ry="16" fill="#e53238"/><path d="M340.8 244L340.8 228A17.8 16 0 0 1 358.6 244z" fill="#ffe66e"/><path d="M340.8 244L323.2 246.2A17.8 16 0 0 1 323.7 239.5z" fill="#3a7fc0"/><path d="M340.8 244L323.7 239.5A17.8 16 0 0 1 327.4 233.5z" fill="#4dae4c"/><path d="M340.8 244L327.4 233.5A17.8 16 0 0 1 333.1 229.6z" fill="#9a50ab"/><path d="M340.8 244L333.1 229.6A17.8 16 0 0 1 340.8 228z" fill="#ff7f0e"/>
<ellipse cx="231" cy="268.9" rx="12" ry="12" fill="#000" opacity=".24" filter="url(#sh)"/><path d="M219 266.9v2.3A11.7 10.5 0 0 0 242.4 269.3v-2.3z" fill="#a4242a"/><ellipse cx="230.7" cy="266.9" rx="11.7" ry="10.5" fill="#e53238"/><path d="M230.7 266.9L230.7 256.4A11.7 10.5 0 0 1 242.4 267.3z" fill="#ffe66e"/><path d="M230.7 266.9L219.3 264.6A11.7 10.5 0 0 1 220.8 261.3z" fill="#3a7fc0"/><path d="M230.7 266.9L220.8 261.3A11.7 10.5 0 0 1 223.4 258.7z" fill="#4dae4c"/><path d="M230.7 266.9L223.4 258.7A11.7 10.5 0 0 1 226.7 257z" fill="#9a50ab"/><path d="M230.7 266.9L226.7 257A11.7 10.5 0 0 1 230.7 256.4z" fill="#ff7f0e"/>
<ellipse cx="196.6" cy="274.1" rx="15.6" ry="15.6" fill="#000" opacity=".24" filter="url(#sh)"/><path d="M181 271.8v3.1A15.3 13.8 0 0 0 211.6 274.8v-3.1z" fill="#a4242a"/><ellipse cx="196.3" cy="271.8" rx="15.3" ry="13.8" fill="#e53238"/><path d="M196.3 271.8L196.3 258A15.3 13.8 0 0 1 211.6 271.8z" fill="#ffe66e"/><path d="M196.3 271.8L181.1 270.6A15.3 13.8 0 0 1 182.6 265.7z" fill="#3a7fc0"/><path d="M196.3 271.8L182.6 265.7A15.3 13.8 0 0 1 186 261.6z" fill="#4dae4c"/><path d="M196.3 271.8L186 261.6A15.3 13.8 0 0 1 190.5 259z" fill="#9a50ab"/><path d="M196.3 271.8L190.5 259A15.3 13.8 0 0 1 196.3 258z" fill="#ff7f0e"/>
<ellipse cx="292.7" cy="269.2" rx="12.3" ry="12.3" fill="#000" opacity=".24" filter="url(#sh)"/><path d="M280.4 267.2v2.4A12 10.8 0 0 0 304.4 269.6v-2.4z" fill="#a4242a"/><ellipse cx="292.4" cy="267.2" rx="12" ry="10.8" fill="#e53238"/><path d="M292.4 267.2L292.4 256.4A12 10.8 0 0 1 304.4 267.6z" fill="#ffe66e"/><path d="M292.4 267.2L280.4 267.6A12 10.8 0 0 1 281.2 263.3z" fill="#3a7fc0"/><path d="M292.4 267.2L281.2 263.3A12 10.8 0 0 1 283.8 259.7z" fill="#4dae4c"/><path d="M292.4 267.2L283.8 259.7A12 10.8 0 0 1 287.5 257.3z" fill="#9a50ab"/><path d="M292.4 267.2L287.5 257.3A12 10.8 0 0 1 292.4 256.4z" fill="#ff7f0e"/>
<ellipse cx="332.4" cy="292.3" rx="13.8" ry="13.8" fill="#000" opacity=".24" filter="url(#sh)"/><path d="M318.6 290.1v2.7A13.5 12.2 0 0 0 345.6 292.8v-2.7z" fill="#a4242a"/><ellipse cx="332.1" cy="290.1" rx="13.5" ry="12.2" fill="#e53238"/><path d="M332.1 290.1L332.1 278A13.5 12.2 0 0 1 345.6 289.5z" fill="#ffe66e"/><path d="M332.1 290.1L318.9 292.9A13.5 12.2 0 0 1 318.9 287.5z" fill="#3a7fc0"/><path d="M332.1 290.1L318.9 287.5A13.5 12.2 0 0 1 321.5 282.6z" fill="#4dae4c"/><path d="M332.1 290.1L321.5 282.6A13.5 12.2 0 0 1 326 279.3z" fill="#9a50ab"/><path d="M332.1 290.1L326 279.3A13.5 12.2 0 0 1 332.1 278z" fill="#ff7f0e"/>
<ellipse cx="264.8" cy="293.9" rx="9.8" ry="9.8" fill="#000" opacity=".24" filter="url(#sh)"/><path d="M255 292.2v1.9A9.5 8.6 0 0 0 274 294.1v-1.9z" fill="#a4242a"/><ellipse cx="264.5" cy="292.2" rx="9.5" ry="8.6" fill="#e53238"/><path d="M264.5 292.2L264.5 283.6A9.5 8.6 0 0 1 274 291.9z" fill="#ffe66e"/><path d="M264.5 292.2L255 292.4A9.5 8.6 0 0 1 255.6 289.1z" fill="#3a7fc0"/><path d="M264.5 292.2L255.6 289.1A9.5 8.6 0 0 1 257.7 286.2z" fill="#4dae4c"/><path d="M264.5 292.2L257.7 286.2A9.5 8.6 0 0 1 260.6 284.3z" fill="#9a50ab"/><path d="M264.5 292.2L260.6 284.3A9.5 8.6 0 0 1 264.5 283.6z" fill="#ff7f0e"/>
<ellipse cx="233" cy="305" rx="12" ry="12" fill="#000" opacity=".24" filter="url(#sh)"/><path d="M221 303v2.3A11.7 10.5 0 0 0 244.4 305.4v-2.3z" fill="#a4242a"/><ellipse cx="232.7" cy="303" rx="11.7" ry="10.5" fill="#e53238"/><path d="M232.7 303L232.7 292.5A11.7 10.5 0 0 1 244.4 302.5z" fill="#ffe66e"/><path d="M232.7 303L221.3 300.5A11.7 10.5 0 0 1 222.9 297.3z" fill="#3a7fc0"/><path d="M232.7 303L222.9 297.3A11.7 10.5 0 0 1 225.5 294.7z" fill="#4dae4c"/><path d="M232.7 303L225.5 294.7A11.7 10.5 0 0 1 228.7 293.1z" fill="#9a50ab"/><path d="M232.7 303L228.7 293.1A11.7 10.5 0 0 1 232.7 292.5z" fill="#ff7f0e"/>
<ellipse cx="296" cy="304.7" rx="8.6" ry="8.6" fill="#000" opacity=".24" filter="url(#sh)"/><path d="M287.4 303.1v1.7A8.3 7.5 0 0 0 304 304.7v-1.7z" fill="#a4242a"/><ellipse cx="295.7" cy="303.1" rx="8.3" ry="7.5" fill="#e53238"/><path d="M295.7 303.1L295.7 295.6A8.3 7.5 0 0 1 303.9 302z" fill="#ffe66e"/><path d="M295.7 303.1L287.8 300.8A8.3 7.5 0 0 1 289 298.7z" fill="#3a7fc0"/><path d="M295.7 303.1L289 298.7A8.3 7.5 0 0 1 290.8 297z" fill="#4dae4c"/><path d="M295.7 303.1L290.8 297A8.3 7.5 0 0 1 293 296z" fill="#9a50ab"/><path d="M295.7 303.1L293 296A8.3 7.5 0 0 1 295.7 295.6z" fill="#ff7f0e"/>
<ellipse cx="195.4" cy="320.7" rx="24.8" ry="24.8" fill="#000" opacity=".24" filter="url(#sh)"/><path d="M170.6 317.4v4.9A24.5 22.1 0 0 0 219.6 322.3v-4.9z" fill="#a4242a"/><ellipse cx="195.1" cy="317.4" rx="24.5" ry="22.1" fill="#e53238"/><path d="M195.1 317.4L195.1 295.4A24.5 22.1 0 0 1 219.6 318.2z" fill="#ffe66e"/><path d="M195.1 317.4L170.7 319.8A24.5 22.1 0 0 1 171.8 310.6z" fill="#3a7fc0"/><path d="M195.1 317.4L171.8 310.6A24.5 22.1 0 0 1 176.9 302.7z" fill="#4dae4c"/><path d="M195.1 317.4L176.9 302.7A24.5 22.1 0 0 1 184.8 297.5z" fill="#9a50ab"/><path d="M195.1 317.4L184.8 297.5A24.5 22.1 0 0 1 195.1 295.4z" fill="#ff7f0e"/>
<ellipse cx="404.5" cy="241.4" rx="14.9" ry="14.9" fill="#000" opacity=".24" filter="url(#sh)"/><path d="M389.6 239.1v2.9A14.6 13.1 0 0 0 418.8 242.1v-2.9z" fill="#a4242a"/><ellipse cx="404.2" cy="239.1" rx="14.6" ry="13.1" fill="#e53238"/><path d="M404.2 239.1L404.2 226A14.6 13.1 0 0 1 418.4 236z" fill="#ffe66e"/><path d="M404.2 239.1L389.7 240.5A14.6 13.1 0 0 1 390.3 235.1z" fill="#3a7fc0"/><path d="M404.2 239.1L390.3 235.1A14.6 13.1 0 0 1 393.4 230.3z" fill="#4dae4c"/><path d="M404.2 239.1L393.4 230.3A14.6 13.1 0 0 1 398 227.2z" fill="#9a50ab"/><path d="M404.2 239.1L398 227.2A14.6 13.1 0 0 1 404.2 226z" fill="#ff7f0e"/>
<ellipse cx="456.8" cy="281.3" rx="11.8" ry="11.8" fill="#000" opacity=".24" filter="url(#sh)"/><path d="M445 279.4v2.3A11.5 10.3 0 0 0 468 281.7v-2.3z" fill="#a4242a"/><ellipse cx="456.5" cy="279.4" rx="11.5" ry="10.3" fill="#e53238"/><path d="M456.5 279.4L456.5 269A11.5 10.3 0 0 1 467.9 278.1z" fill="#ffe66e"/><path d="M456.5 279.4L445 279A11.5 10.3 0 0 1 446 275.1z" fill="#3a7fc0"/><path d="M456.5 279.4L446 275.1A11.5 10.3 0 0 1 448.5 271.9z" fill="#4dae4c"/><path d="M456.5 279.4L448.5 271.9A11.5 10.3 0 0 1 452 269.8z" fill="#9a50ab"/><path d="M456.5 279.4L452 269.8A11.5 10.3 0 0 1 456.5 269z" fill="#ff7f0e"/>
<ellipse cx="367" cy="287.3" rx="10.4" ry="10.4" fill="#000" opacity=".24" filter="url(#sh)"/><path d="M356.6 285.5v2A10.1 9.1 0 0 0 376.8 287.5v-2z" fill="#a4242a"/><ellipse cx="366.7" cy="285.5" rx="10.1" ry="9.1" fill="#e53238"/><path d="M366.7 285.5L366.7 276.4A10.1 9.1 0 0 1 376.5 283.3z" fill="#ffe66e"/><path d="M366.7 285.5L356.8 287.4A10.1 9.1 0 0 1 356.9 283.4z" fill="#3a7fc0"/><path d="M366.7 285.5L356.9 283.4A10.1 9.1 0 0 1 358.9 279.8z" fill="#4dae4c"/><path d="M366.7 285.5L358.9 279.8A10.1 9.1 0 0 1 362.2 277.4z" fill="#9a50ab"/><path d="M366.7 285.5L362.2 277.4A10.1 9.1 0 0 1 366.7 276.4z" fill="#ff7f0e"/>
<ellipse cx="403.1" cy="301" rx="9.5" ry="9.5" fill="#000" opacity=".24" filter="url(#sh)"/><path d="M393.6 299.3v1.8A9.2 8.3 0 0 0 412 301.1v-1.8z" fill="#a4242a"/><ellipse cx="402.8" cy="299.3" rx="9.2" ry="8.3" fill="#e53238"/><path d="M402.8 299.3L402.8 291A9.2 8.3 0 0 1 412 299z" fill="#ffe66e"/><path d="M402.8 299.3L393.7 298.3A9.2 8.3 0 0 1 394.7 295.4z" fill="#3a7fc0"/><path d="M402.8 299.3L394.7 295.4A9.2 8.3 0 0 1 396.7 293.1z" fill="#4dae4c"/><path d="M402.8 299.3L396.7 293.1A9.2 8.3 0 0 1 399.4 291.6z" fill="#9a50ab"/><path d="M402.8 299.3L399.4 291.6A9.2 8.3 0 0 1 402.8 291z" fill="#ff7f0e"/>
<ellipse cx="437.8" cy="315.3" rx="16.8" ry="16.8" fill="#000" opacity=".24" filter="url(#sh)"/><path d="M421 312.9v3.3A16.5 14.8 0 0 0 454 316.2v-3.3z" fill="#a4242a"/><ellipse cx="437.5" cy="312.9" rx="16.5" ry="14.8" fill="#e53238"/><path d="M437.5 312.9L437.5 298A16.5 14.8 0 0 1 453.8 310.5z" fill="#ffe66e"/><path d="M437.5 312.9L421 312.6A16.5 14.8 0 0 1 422.3 307z" fill="#3a7fc0"/><path d="M437.5 312.9L422.3 307A16.5 14.8 0 0 1 425.9 302.3z" fill="#4dae4c"/><path d="M437.5 312.9L425.9 302.3A16.5 14.8 0 0 1 431 299.2z" fill="#9a50ab"/><path d="M437.5 312.9L431 299.2A16.5 14.8 0 0 1 437.5 298z" fill="#ff7f0e"/>
<ellipse cx="492.6" cy="272.5" rx="14.6" ry="14.6" fill="#000" opacity=".24" filter="url(#sh)"/><path d="M478 270.3v2.9A14.3 12.9 0 0 0 506.6 273.1v-2.9z" fill="#a4242a"/><ellipse cx="492.3" cy="270.3" rx="14.3" ry="12.9" fill="#e53238"/><path d="M492.3 270.3L492.3 257.4A14.3 12.9 0 0 1 506.4 268z" fill="#ffe66e"/><path d="M492.3 270.3L478 271.2A14.3 12.9 0 0 1 478.8 266z" fill="#3a7fc0"/><path d="M492.3 270.3L478.8 266A14.3 12.9 0 0 1 481.8 261.5z" fill="#4dae4c"/><path d="M492.3 270.3L481.8 261.5A14.3 12.9 0 0 1 486.4 258.6z" fill="#9a50ab"/><path d="M492.3 270.3L486.4 258.6A14.3 12.9 0 0 1 492.3 257.4z" fill="#ff7f0e"/>
<ellipse cx="536.8" cy="248.3" rx="10.2" ry="10.2" fill="#000" opacity=".24" filter="url(#sh)"/><path d="M526.6 246.5v2A9.9 8.9 0 0 0 546.4 248.5v-2z" fill="#a4242a"/><ellipse cx="536.5" cy="246.5" rx="9.9" ry="8.9" fill="#e53238"/><path d="M536.5 246.5L536.5 237.6A9.9 8.9 0 0 1 546.2 244.7z" fill="#ffe66e"/><path d="M536.5 246.5L526.6 245.9A9.9 8.9 0 0 1 527.6 242.7z" fill="#3a7fc0"/><path d="M536.5 246.5L527.6 242.7A9.9 8.9 0 0 1 529.7 240z" fill="#4dae4c"/><path d="M536.5 246.5L529.7 240A9.9 8.9 0 0 1 532.7 238.3z" fill="#9a50ab"/><path d="M536.5 246.5L532.7 238.3A9.9 8.9 0 0 1 536.5 237.6z" fill="#ff7f0e"/>
<ellipse cx="586.2" cy="259.9" rx="13.3" ry="13.3" fill="#000" opacity=".24" filter="url(#sh)"/><path d="M572.9 257.8v2.6A13 11.7 0 0 0 598.9 260.4v-2.6z" fill="#a4242a"/><ellipse cx="585.9" cy="257.8" rx="13" ry="11.7" fill="#e53238"/><path d="M585.9 257.8L585.9 246.1A13 11.7 0 0 1 598.8 256.2z" fill="#ffe66e"/><path d="M585.9 257.8L573.5 254.2A13 11.7 0 0 1 575.4 250.9z" fill="#3a7fc0"/><path d="M585.9 257.8L575.4 250.9A13 11.7 0 0 1 578.3 248.3z" fill="#4dae4c"/><path d="M585.9 257.8L578.3 248.3A13 11.7 0 0 1 581.7 246.7z" fill="#9a50ab"/><path d="M585.9 257.8L581.7 246.7A13 11.7 0 0 1 585.9 246.1z" fill="#ff7f0e"/>
<ellipse cx="596.3" cy="265.3" rx="8.3" ry="8.3" fill="#000" opacity=".24" filter="url(#sh)"/><path d="M588 263.7v1.6A8 7.2 0 0 0 604 265.3v-1.6z" fill="#a4242a"/><ellipse cx="596" cy="263.7" rx="8" ry="7.2" fill="#e53238"/><path d="M596 263.7L596 256.5A8 7.2 0 0 1 604 264.3z" fill="#ffe66e"/><path d="M596 263.7L588.3 261.8A8 7.2 0 0 1 589.3 259.7z" fill="#3a7fc0"/><path d="M596 263.7L589.3 259.7A8 7.2 0 0 1 591.1 258z" fill="#4dae4c"/><path d="M596 263.7L591.1 258A8 7.2 0 0 1 593.3 256.9z" fill="#9a50ab"/><path d="M596 263.7L593.3 256.9A8 7.2 0 0 1 596 256.5z" fill="#ff7f0e"/>
<ellipse cx="584.8" cy="285.3" rx="9.8" ry="9.8" fill="#000" opacity=".24" filter="url(#sh)"/><path d="M575 283.6v1.9A9.5 8.6 0 0 0 594 285.4v-1.9z" fill="#a4242a"/><ellipse cx="584.5" cy="283.6" rx="9.5" ry="8.6" fill="#e53238"/><path d="M584.5 283.6L584.5 275A9.5 8.6 0 0 1 593.9 282.4z" fill="#ffe66e"/><path d="M584.5 283.6L575.5 280.9A9.5 8.6 0 0 1 576.8 278.5z" fill="#3a7fc0"/><path d="M584.5 283.6L576.8 278.5A9.5 8.6 0 0 1 578.9 276.6z" fill="#4dae4c"/><path d="M584.5 283.6L578.9 276.6A9.5 8.6 0 0 1 581.5 275.5z" fill="#9a50ab"/><path d="M584.5 283.6L581.5 275.5A9.5 8.6 0 0 1 584.5 275z" fill="#ff7f0e"/>
<ellipse cx="595.3" cy="276.4" rx="13.3" ry="13.3" fill="#000" opacity=".24" filter="url(#sh)"/><path d="M582 274.3v2.6A13 11.7 0 0 0 608 276.9v-2.6z" fill="#a4242a"/><ellipse cx="595" cy="274.3" rx="13" ry="11.7" fill="#e53238"/><path d="M595 274.3L595 262.6A13 11.7 0 0 1 608 273.9z" fill="#ffe66e"/><path d="M595 274.3L582.2 272.3A13 11.7 0 0 1 583.7 268.4z" fill="#3a7fc0"/><path d="M595 274.3L583.7 268.4A13 11.7 0 0 1 586.6 265.3z" fill="#4dae4c"/><path d="M595 274.3L586.6 265.3A13 11.7 0 0 1 590.4 263.4z" fill="#9a50ab"/><path d="M595 274.3L590.4 263.4A13 11.7 0 0 1 595 262.6z" fill="#ff7f0e"/>
<ellipse cx="573.4" cy="274.6" rx="19.1" ry="19.1" fill="#000" opacity=".24" filter="url(#sh)"/><path d="M554.4 271.9v3.8A18.8 16.9 0 0 0 591.9 275.6v-3.8z" fill="#a4242a"/><ellipse cx="573.1" cy="271.9" rx="18.8" ry="16.9" fill="#e53238"/><path d="M573.1 271.9L573.1 255A18.8 16.9 0 0 1 591.6 268.7z" fill="#ffe66e"/><path d="M573.1 271.9L554.4 272.2A18.8 16.9 0 0 1 555.7 265.6z" fill="#3a7fc0"/><path d="M573.1 271.9L555.7 265.6A18.8 16.9 0 0 1 559.8 260z" fill="#4dae4c"/><path d="M573.1 271.9L559.8 260A18.8 16.9 0 0 1 565.6 256.4z" fill="#9a50ab"/><path d="M573.1 271.9L565.6 256.4A18.8 16.9 0 0 1 573.1 255z" fill="#ff7f0e"/>
<ellipse cx="644.8" cy="306.9" rx="19.4" ry="19.4" fill="#000" opacity=".24" filter="url(#sh)"/><path d="M625.4 304.2v3.8A19.1 17.2 0 0 0 663.6 308v-3.8z" fill="#a4242a"/><ellipse cx="644.5" cy="304.2" rx="19.1" ry="17.2" fill="#e53238"/><path d="M644.5 304.2L644.5 287A19.1 17.2 0 0 1 663.4 301.8z" fill="#ffe66e"/><path d="M644.5 304.2L625.4 303A19.1 17.2 0 0 1 627.3 296.8z" fill="#3a7fc0"/><path d="M644.5 304.2L627.3 296.8A19.1 17.2 0 0 1 631.5 291.6z" fill="#4dae4c"/><path d="M644.5 304.2L631.5 291.6A19.1 17.2 0 0 1 637.2 288.3z" fill="#9a50ab"/><path d="M644.5 304.2L637.2 288.3A19.1 17.2 0 0 1 644.5 287z" fill="#ff7f0e"/>
<ellipse cx="677" cy="280.3" rx="19.4" ry="19.4" fill="#000" opacity=".24" filter="url(#sh)"/><path d="M657.6 277.6v3.8A19.1 17.2 0 0 0 695.8 281.4v-3.8z" fill="#a4242a"/><ellipse cx="676.7" cy="277.6" rx="19.1" ry="17.2" fill="#e53238"/><path d="M676.7 277.6L676.7 260.4A19.1 17.2 0 0 1 695.1 272.9z" fill="#ffe66e"/><path d="M676.7 277.6L657.7 275.5A19.1 17.2 0 0 1 659.8 269.6z" fill="#3a7fc0"/><path d="M676.7 277.6L659.8 269.6A19.1 17.2 0 0 1 664 264.7z" fill="#4dae4c"/><path d="M676.7 277.6L664 264.7A19.1 17.2 0 0 1 669.7 261.6z" fill="#9a50ab"/><path d="M676.7 277.6L669.7 261.6A19.1 17.2 0 0 1 676.7 260.4z" fill="#ff7f0e"/>
<ellipse cx="711.2" cy="266.9" rx="9.8" ry="9.8" fill="#000" opacity=".24" filter="url(#sh)"/><path d="M701.4 265.2v1.9A9.5 8.6 0 0 0 720.4 267.1v-1.9z" fill="#a4242a"/><ellipse cx="710.9" cy="265.2" rx="9.5" ry="8.6" fill="#e53238"/><path d="M710.9 265.2L710.9 256.6A9.5 8.6 0 0 1 720.3 263.7z" fill="#ffe66e"/><path d="M710.9 265.2L701.8 262.8A9.5 8.6 0 0 1 703.1 260.3z" fill="#3a7fc0"/><path d="M710.9 265.2L703.1 260.3A9.5 8.6 0 0 1 705.2 258.3z" fill="#4dae4c"/><path d="M710.9 265.2L705.2 258.3A9.5 8.6 0 0 1 707.8 257.1z" fill="#9a50ab"/><path d="M710.9 265.2L707.8 257.1A9.5 8.6 0 0 1 710.9 256.6z" fill="#ff7f0e"/>
<ellipse cx="73.3" cy="326.7" rx="14.3" ry="14.3" fill="#000" opacity=".24" filter="url(#sh)"/><path d="M59 324.5v2.8A14 12.6 0 0 0 87 327.3v-2.8z" fill="#a4242a"/><ellipse cx="73" cy="324.5" rx="14" ry="12.6" fill="#e53238"/><path d="M73 324.5L73 311.9A14 12.6 0 0 1 86.9 325.6z" fill="#ffe66e"/><path d="M73 324.5L59 324.1A14 12.6 0 0 1 60.2 319.4z" fill="#3a7fc0"/><path d="M73 324.5L60.2 319.4A14 12.6 0 0 1 63.3 315.4z" fill="#4dae4c"/><path d="M73 324.5L63.3 315.4A14 12.6 0 0 1 67.6 312.9z" fill="#9a50ab"/><path d="M73 324.5L67.6 312.9A14 12.6 0 0 1 73 311.9z" fill="#ff7f0e"/>
<ellipse cx="58.4" cy="326.3" rx="15.8" ry="15.8" fill="#000" opacity=".24" filter="url(#sh)"/><path d="M42.6 323.9v3.1A15.5 14 0 0 0 73.6 327.1v-3.1z" fill="#a4242a"/><ellipse cx="58.1" cy="323.9" rx="15.5" ry="14" fill="#e53238"/><path d="M58.1 323.9L58.1 310A15.5 14 0 0 1 73.6 323.9z" fill="#ffe66e"/><path d="M58.1 323.9L42.6 324.4A15.5 14 0 0 1 43.6 319z" fill="#3a7fc0"/><path d="M58.1 323.9L43.6 319A15.5 14 0 0 1 47 314.3z" fill="#4dae4c"/><path d="M58.1 323.9L47 314.3A15.5 14 0 0 1 51.8 311.2z" fill="#9a50ab"/><path d="M58.1 323.9L51.8 311.2A15.5 14 0 0 1 58.1 310z" fill="#ff7f0e"/>
<ellipse cx="85" cy="348.3" rx="12.8" ry="12.8" fill="#000" opacity=".24" filter="url(#sh)"/><path d="M72.2 346.2v2.5A12.5 11.2 0 0 0 97.2 348.8v-2.5z" fill="#a4242a"/><ellipse cx="84.7" cy="346.2" rx="12.5" ry="11.2" fill="#e53238"/><path d="M84.7 346.2L76.7 337.6A12.5 11.2 0 0 1 88.6 335.6z" fill="#ffe66e"/><path d="M84.7 346.2L74.8 353.2A12.5 11.2 0 0 1 72.7 349.4z" fill="#3a7fc0"/><path d="M84.7 346.2L72.7 349.4A12.5 11.2 0 0 1 72.3 345.1z" fill="#4dae4c"/><path d="M84.7 346.2L72.3 345.1A12.5 11.2 0 0 1 73.6 341.1z" fill="#9a50ab"/><path d="M84.7 346.2L73.6 341.1A12.5 11.2 0 0 1 76.7 337.6z" fill="#ff7f0e"/>
<ellipse cx="99.1" cy="334.6" rx="12.5" ry="12.5" fill="#000" opacity=".24" filter="url(#sh)"/><path d="M86.6 332.6v2.4A12.2 11 0 0 0 111 335v-2.4z" fill="#a4242a"/><ellipse cx="98.8" cy="332.6" rx="12.2" ry="11" fill="#e53238"/><path d="M98.8 332.6L98.8 321.6A12.2 11 0 0 1 111 333z" fill="#ffe66e"/><path d="M98.8 332.6L86.6 332A12.2 11 0 0 1 87.7 328z" fill="#3a7fc0"/><path d="M98.8 332.6L87.7 328A12.2 11 0 0 1 90.4 324.6z" fill="#4dae4c"/><path d="M98.8 332.6L90.4 324.6A12.2 11 0 0 1 94.1 322.4z" fill="#9a50ab"/><path d="M98.8 332.6L94.1 322.4A12.2 11 0 0 1 98.8 321.6z" fill="#ff7f0e"/>
<ellipse cx="69.1" cy="353.2" rx="15.1" ry="15.1" fill="#000" opacity=".24" filter="url(#sh)"/><path d="M54 350.9v3A14.8 13.3 0 0 0 83.6 353.9v-3z" fill="#a4242a"/><ellipse cx="68.8" cy="350.9" rx="14.8" ry="13.3" fill="#e53238"/><path d="M68.8 350.9L68.8 337.6A14.8 13.3 0 0 1 83.2 354.1z" fill="#ffe66e"/><path d="M68.8 350.9L55.2 356.1A14.8 13.3 0 0 1 54 350.5z" fill="#3a7fc0"/><path d="M68.8 350.9L54 350.5A14.8 13.3 0 0 1 56.2 343.9z" fill="#4dae4c"/><path d="M68.8 350.9L56.2 343.9A14.8 13.3 0 0 1 61.4 339.4z" fill="#9a50ab"/><path d="M68.8 350.9L61.4 339.4A14.8 13.3 0 0 1 68.8 337.6z" fill="#ff7f0e"/>
<ellipse cx="142.2" cy="339.7" rx="18.2" ry="18.2" fill="#000" opacity=".24" filter="url(#sh)"/><path d="M124 337.1v3.6A17.9 16.1 0 0 0 159.8 340.7v-3.6z" fill="#a4242a"/><ellipse cx="141.9" cy="337.1" rx="17.9" ry="16.1" fill="#e53238"/><path d="M141.9 337.1L141.9 321A17.9 16.1 0 0 1 159.8 337.4z" fill="#ffe66e"/><path d="M141.9 337.1L124 336.8A17.9 16.1 0 0 1 125.5 330.8z" fill="#3a7fc0"/><path d="M141.9 337.1L125.5 330.8A17.9 16.1 0 0 1 129.4 325.6z" fill="#4dae4c"/><path d="M141.9 337.1L129.4 325.6A17.9 16.1 0 0 1 134.9 322.3z" fill="#9a50ab"/><path d="M141.9 337.1L134.9 322.3A17.9 16.1 0 0 1 141.9 321z" fill="#ff7f0e"/>
<ellipse cx="167.3" cy="352" rx="12.9" ry="12.9" fill="#000" opacity=".24" filter="url(#sh)"/><path d="M154.4 349.9v2.5A12.6 11.3 0 0 0 179.6 352.5v-2.5z" fill="#a4242a"/><ellipse cx="167" cy="349.9" rx="12.6" ry="11.3" fill="#e53238"/><path d="M167 349.9L167 338.6A12.6 11.3 0 0 1 179.6 349.1z" fill="#ffe66e"/><path d="M167 349.9L154.4 349.5A12.6 11.3 0 0 1 155.5 345.3z" fill="#3a7fc0"/><path d="M167 349.9L155.5 345.3A12.6 11.3 0 0 1 158.2 341.8z" fill="#4dae4c"/><path d="M167 349.9L158.2 341.8A12.6 11.3 0 0 1 162.1 339.5z" fill="#9a50ab"/><path d="M167 349.9L162.1 339.5A12.6 11.3 0 0 1 167 338.6z" fill="#ff7f0e"/>
<ellipse cx="124.6" cy="376.5" rx="20" ry="20" fill="#000" opacity=".24" filter="url(#sh)"/><path d="M104.6 373.7v3.9A19.7 17.7 0 0 0 144 377.7v-3.9z" fill="#a4242a"/><ellipse cx="124.3" cy="373.7" rx="19.7" ry="17.7" fill="#e53238"/><path d="M124.3 373.7L124.3 356A19.7 17.7 0 0 1 144 375z" fill="#ffe66e"/><path d="M124.3 373.7L104.6 372.5A19.7 17.7 0 0 1 106.5 366.1z" fill="#3a7fc0"/><path d="M124.3 373.7L106.5 366.1A19.7 17.7 0 0 1 110.9 360.8z" fill="#4dae4c"/><path d="M124.3 373.7L110.9 360.8A19.7 17.7 0 0 1 116.8 357.3z" fill="#9a50ab"/><path d="M124.3 373.7L116.8 357.3A19.7 17.7 0 0 1 124.3 356z" fill="#ff7f0e"/>
<ellipse cx="188" cy="407.1" rx="21" ry="21" fill="#000" opacity=".24" filter="url(#sh)"/><path d="M167 404.2v4.1A20.7 18.6 0 0 0 208.4 408.4v-4.1z" fill="#a4242a"/><ellipse cx="187.7" cy="404.2" rx="20.7" ry="18.6" fill="#e53238"/><path d="M187.7 404.2L187.7 385.6A20.7 18.6 0 0 1 207.9 400.4z" fill="#ffe66e"/><path d="M187.7 404.2L167.2 402A20.7 18.6 0 0 1 169.4 395.6z" fill="#3a7fc0"/><path d="M187.7 404.2L169.4 395.6A20.7 18.6 0 0 1 174 390.3z" fill="#4dae4c"/><path d="M187.7 404.2L174 390.3A20.7 18.6 0 0 1 180.1 386.9z" fill="#9a50ab"/><path d="M187.7 404.2L180.1 386.9A20.7 18.6 0 0 1 187.7 385.6z" fill="#ff7f0e"/>
<ellipse cx="308.5" cy="332.6" rx="9.1" ry="9.1" fill="#000" opacity=".24" filter="url(#sh)"/><path d="M299.4 330.9v1.8A8.8 7.9 0 0 0 317 332.7v-1.8z" fill="#a4242a"/><ellipse cx="308.2" cy="330.9" rx="8.8" ry="7.9" fill="#e53238"/><path d="M308.2 330.9L308.2 323A8.8 7.9 0 0 1 316.7 329z" fill="#ffe66e"/><path d="M308.2 330.9L299.4 331.7A8.8 7.9 0 0 1 299.8 328.5z" fill="#3a7fc0"/><path d="M308.2 330.9L299.8 328.5A8.8 7.9 0 0 1 301.7 325.6z" fill="#4dae4c"/><path d="M308.2 330.9L301.7 325.6A8.8 7.9 0 0 1 304.5 323.7z" fill="#9a50ab"/><path d="M308.2 330.9L304.5 323.7A8.8 7.9 0 0 1 308.2 323z" fill="#ff7f0e"/>
<ellipse cx="263.2" cy="354.9" rx="22.8" ry="22.8" fill="#000" opacity=".24" filter="url(#sh)"/><path d="M240.4 351.9v4.5A22.5 20.2 0 0 0 285.4 356.4v-4.5z" fill="#a4242a"/><ellipse cx="262.9" cy="351.9" rx="22.5" ry="20.2" fill="#e53238"/><path d="M262.9 351.9L262.9 331.6A22.5 20.2 0 0 1 285.3 349.7z" fill="#ffe66e"/><path d="M262.9 351.9L240.4 351.5A22.5 20.2 0 0 1 242.2 343.9z" fill="#3a7fc0"/><path d="M262.9 351.9L242.2 343.9A22.5 20.2 0 0 1 247.1 337.4z" fill="#4dae4c"/><path d="M262.9 351.9L247.1 337.4A22.5 20.2 0 0 1 254.1 333.2z" fill="#9a50ab"/><path d="M262.9 351.9L254.1 333.2A22.5 20.2 0 0 1 262.9 331.6z" fill="#ff7f0e"/>
<ellipse cx="222" cy="382.5" rx="26.6" ry="26.6" fill="#000" opacity=".24" filter="url(#sh)"/><path d="M195.4 379.1v5.3A26.3 23.7 0 0 0 248 384.3v-5.3z" fill="#a4242a"/><ellipse cx="221.7" cy="379.1" rx="26.3" ry="23.7" fill="#e53238"/><path d="M221.7 379.1L221.7 355.4A26.3 23.7 0 0 1 248 377.8z" fill="#ffe66e"/><path d="M221.7 379.1L195.5 377A26.3 23.7 0 0 1 198.1 368.6z" fill="#3a7fc0"/><path d="M221.7 379.1L198.1 368.6A26.3 23.7 0 0 1 203.9 361.6z" fill="#4dae4c"/><path d="M221.7 379.1L203.9 361.6A26.3 23.7 0 0 1 211.8 357.1z" fill="#9a50ab"/><path d="M221.7 379.1L211.8 357.1A26.3 23.7 0 0 1 221.7 355.4z" fill="#ff7f0e"/>
<ellipse cx="387.5" cy="329" rx="16.5" ry="16.5" fill="#000" opacity=".24" filter="url(#sh)"/><path d="M371 326.6v3.2A16.2 14.6 0 0 0 403.4 329.8v-3.2z" fill="#a4242a"/><ellipse cx="387.2" cy="326.6" rx="16.2" ry="14.6" fill="#e53238"/><path d="M387.2 326.6L387.2 312A16.2 14.6 0 0 1 403 323.5z" fill="#ffe66e"/><path d="M387.2 326.6L371.4 323.5A16.2 14.6 0 0 1 373.4 319z" fill="#3a7fc0"/><path d="M387.2 326.6L373.4 319A16.2 14.6 0 0 1 377 315.2z" fill="#4dae4c"/><path d="M387.2 326.6L377 315.2A16.2 14.6 0 0 1 381.6 312.9z" fill="#9a50ab"/><path d="M387.2 326.6L381.6 312.9A16.2 14.6 0 0 1 387.2 312z" fill="#ff7f0e"/>
<ellipse cx="342.8" cy="353.3" rx="12.8" ry="12.8" fill="#000" opacity=".24" filter="url(#sh)"/><path d="M330 351.2v2.5A12.5 11.2 0 0 0 355 353.8v-2.5z" fill="#a4242a"/><ellipse cx="342.5" cy="351.2" rx="12.5" ry="11.2" fill="#e53238"/><path d="M342.5 351.2L342.5 340A12.5 11.2 0 0 1 354.9 349.7z" fill="#ffe66e"/><path d="M342.5 351.2L330 352.2A12.5 11.2 0 0 1 330.7 347.6z" fill="#3a7fc0"/><path d="M342.5 351.2L330.7 347.6A12.5 11.2 0 0 1 333.3 343.6z" fill="#4dae4c"/><path d="M342.5 351.2L333.3 343.6A12.5 11.2 0 0 1 337.3 341z" fill="#9a50ab"/><path d="M342.5 351.2L337.3 341A12.5 11.2 0 0 1 342.5 340z" fill="#ff7f0e"/>
</g>
<path d="M64 232L64.7 230.4L65.4 228.8L67 227.8L67.2 225.9L68.7 224.8L69.4 223.3L69.9 221.6L71.4 220.5L72.8 219.3L73.8 217.5L75.6 216.7L76.7 215L78.1 213.8L79.9 212.9L81.4 211.7L83.1 210.9L83.9 208.8L85.4 207.7L87.2 207L88.9 206.1L90 204.5L91.2 203.1L92.7 202L94 203.6L96.4 203.4L97.5 205.5L99.6 205.7L101.4 206.5L102.8 208L104.4 208.9L105.4 210.3L106.1 212.1L107.9 212.7L108.7 214.3L110 215.5L112 215.1L113.8 214.1L115.9 213.7L117.8 213L119.7 211.9L121.8 211.5L124 211.7L125.7 212.3L126.9 213.8L128.6 214.5L130 215.5L132 215.1L134 215.3L136 215L138 214.6L140 214.7L141.9 214.1L143.5 213L145 211.7L146.4 210.4L148.3 209.9L149.9 208.8L151.8 208.3L153.3 207.2L154.6 205.7L156.7 205.6L158 204L159.6 202.6L161.7 202.1L163.8 201.6L165.5 200.4L167.4 199.9L169.2 200.4L171.1 199.7L173 200.4L174.2 199.1L175.3 197.7L176.1 196L177.5 194.8L178 193L178.6 191.4L179.9 190.1L180.6 188.6L181.4 187.1L182.1 185.5L183 184L185.1 184.3L187.1 184.3L189 183.4L191 183.4L193 183L194.5 181.9L196.4 182.3L198.1 181.7L199.9 181.7L201.5 181L203 180L203.3 178.2L204 176.5L205 174.9L204.6 172.9L205.8 171.4L206 169.6L207 168L207.8 166.3L209 165L211 164.5L212 163L211.7 161.1L212.2 159.3L212.6 157.5L213.6 155.7L212.7 153.7L213.5 152L213.9 150.2L214.7 148.4L214.4 146.5L215.8 145L216.9 143.3L217.2 141.1L218.4 139.4L219.5 137.7L221.2 137L223.1 137.4L224.9 137L226.4 135.4L228.1 135L230 135L231.7 134.2L233.4 133.9L235.2 133.9L237 133.6L238.7 132.8L240.3 132L242.2 132.3L244 132L244.4 130.2L245.2 128.6L246.4 127.1L246.6 125.2L246.9 123.4L247.6 121.8L248 120L249.6 119.2L250.6 117.4L252.8 117.5L254.2 116.3L255.8 115.5L257.2 114.4L258.4 112.9L260 112L261 110.4L261.9 108.6L263.7 107.6L264.1 105.6L265.3 104.1L267 103L268.5 101.6L270.2 100.6L272.1 99.8L274 99L275.8 98.6L277.6 98.8L279.2 99.3L281 99.6L282.6 100.2L284.4 100L286 101L287.8 101.4L289.6 100.9L291.3 100.1L293.1 100.2L294.9 100.2L296.7 100.1L298.4 99.7L300.3 100.6L302 100L303.7 100.9L305.4 100.2L307.1 100.4L308.9 100L310.6 100.1L312.3 100.6L314 101L315.7 101.7L316.7 103.4L318.8 103.6L320 105L320.2 106.9L318.3 108.3L318.5 110.2L318 112L319.2 113.5L319.3 115.4L320.7 116.7L320.6 118.7L320.7 120.6L322 122L323.4 123.1L325.1 123.5L326.9 123.5L328.5 124.2L330 125L331.6 124L333.6 124.4L335.3 123.5L337 123L338.1 121.4L338.3 119.4L338.9 117.6L340 116L342 115.6L343.9 115.1L345.6 114.1L347.4 113.2L349 112L350.4 110.7L351.3 109L351.7 107L353 105.6L354 104L355.7 103.3L357.3 102.3L359.1 101.8L360.9 101.7L362.7 101.2L364.6 101.3L366.4 101.2L368 100L368.9 98.4L370.6 97.1L371.6 95.6L372.6 94L373 92L375 91.3L376.9 90.6L378.9 90.1L381 90L382.7 90.9L384.1 92.1L385.1 93.7L386.2 95.3L388 96L387.7 97.8L388.5 99.5L388.5 101.3L388.6 103.1L389.9 104.7L389.3 106.5L389.1 108.3L390 110L390.3 111.8L391 113.5L392 115L393.1 116.5L392.9 118.5L394 120L395.8 119.7L397.7 120.5L399.5 120L398.9 121.8L399.9 123.5L400 125.2L400 127L401.5 128.4L403.5 128.9L405.6 128.9L407.4 129.7L409 131L410.5 129.9L412.6 130.4L414.3 129.6L415.6 128.1L417.5 128L417.3 129.8L417.4 131.5L418.2 133.1L418.9 134.8L419 136.5L418.7 138.2L419.1 140L419.1 141.7L417.4 143.3L417.7 145L417.7 146.8L417.5 148.5L417.7 150.6L419.3 152.1L420 154L418.5 154.9L417.4 156.3L417 158.2L415.9 159.4L414.5 160.5L414.2 162.5L413.6 164.4L412.5 166.1L412 168L413.8 167.6L415.5 167.9L417.2 167.4L419 168L420.9 168.9L423 168.3L425 168.7L427 169L428.3 167.6L430 166.4L430.7 164.4L432 163L433.9 163.9L436 163.5L438 163.8L440 164L441.5 165.4L443.5 166.2L444.6 168.1L446 169.5L448 170.6L449.8 171.9L451 174L451.9 172.4L451.5 170.5L452.5 168.9L453.3 167.3L453.6 165.6L453.7 163.8L454.5 162.2L455 160.5L455.8 158.8L456.9 157.2L456.7 155L458.1 153.5L458.4 151.6L459.5 150L460.8 148.7L462.7 148.3L464 147L466 146.3L468 145.6L470 144.8L471.8 144.8L473.7 144.6L475.3 143.6L477.1 143.4L478.8 142.9L480.6 142.5L481.4 140.6L482.4 138.9L482.8 136.8L483.6 135L485.6 134.7L487.6 134.3L489.6 134L491.6 134.4L493.3 133.7L495.2 133.7L497 132.8L498.8 134L501.1 133.6L503 134.5L505 135L506.1 136.5L507.7 137.3L509.8 137.4L511.3 138.4L512.5 139.8L513.7 138.5L514.7 136.9L516.1 135.9L517.3 134.5L519 133.8L520.7 134.4L522.4 134.8L524.1 135.3L526 135L527.6 134.2L529.5 134.7L531.1 134.3L532.8 133.8L534.5 135.2L534.8 137.6L536.5 139L536.8 140.9L538.7 141.8L538.6 143.8L540.2 144.9L541 146.5L542.9 147.2L544.5 148.7L546.4 149.2L548.5 149.5L550.4 150.6L551.6 152.4L553 154L554.5 155.5L556.4 155.6L558.3 155.8L560.2 156.4L562 157L563.3 155.7L563.4 153.6L565 152.5L566.3 151.1L567.3 149.4L568 147.5L569.6 146.3L571 145L572.6 143.6L574 142L575.5 140.5L573.3 139.5L572 137.5L574.2 137.4L576 136.4L578 135.9L579.4 134L581.5 133.8L583.4 133.8L585.4 133.7L587.1 135.1L589 135L590.4 133.9L591.8 132.9L593.5 132.5L595.3 132.3L596.8 131.3L597.9 129.8L599.6 129.3L601.7 129.8L603 131.7L605.1 132.2L607 133L608.7 134.2L610.9 134.2L612.7 135.1L614.1 136.9L616 137.5L617.8 137.9L619.8 137.8L621.2 139.5L623.2 139.5L625 139.8L626.6 138.9L627.1 136.9L629.1 136.6L630 135L631.7 134.2L633.5 135.3L635.1 134.5L636.8 134.2L638.6 134.4L640.3 134.8L642 134L643.8 134.9L645.5 136L646.8 137.6L648.6 138.5L650 140L651.7 141L652.9 142.5L654.4 143.8L655.5 145.4L656.6 147L657.9 148.4L659 150L660.9 149.3L662.3 147.7L664.3 147L666 146L668.1 145.9L670 146.6L672.1 146.5L674.1 147.2L676 148L677.7 149L678 151.1L679.4 152.3L680.9 153.4L681.7 155.1L682.3 157L684 158L685.4 159.5L685.3 161.6L686.7 163.1L687.4 164.9L687.8 166.8L689.3 168.2L690 170L691 171.5L691.8 173.2L692.4 174.9L694.2 175.9L694.6 177.8L695.7 179.2L696.8 180.6L698 182L699.8 182.3L701.6 182.7L703.5 182.7L705.2 183.2L707 183.6L708.6 185L710.5 184.8L712.3 185.1L714 186L715.7 186.7L716.3 188.7L717.6 189.9L719.2 190.9L720.9 191.6L722 193L723.8 193.1L725.5 193.6L727.2 194.2L729 194.2L730.6 195.1L732.4 195.2L734 196L735.1 197.6L736.6 198.6L738.5 199.1L740.2 199.7L741.1 201.6L743.2 201.8L744.6 202.8L746 204L748.1 203.7L749.9 204.6L751.8 205.2L753.7 205.6L755.6 206L755.7 207.8L754.9 209.5L755.4 211.4L754.6 213.1L754.6 214.9L753.8 216.5L754 218.4L753 220L752.6 221.8L751.2 223L750.3 224.4L748.9 225.5L748 227L746.5 228.1L744.9 229L743.6 230.2L742.1 231.3L740.5 232.3L739.5 234L738 235L737.2 236.8L735.4 238L735.5 240.3L733.7 241.5L732.8 243.2L732 245L732.5 246.9L731.1 248.5L730.8 250.3L731 252.2L730.7 254L730.3 255.7L731.1 257.7L730.4 259.4L730.2 261.2L730 263L729 264.6L728.6 266.4L728 268.1L727.9 270L726.9 271.6L726.7 273.4L726.2 275.2L726 277L724.8 278.5L723.6 279.8L722.1 280.9L720.4 281.7L719.2 283.2L717.1 283.5L716 285L714.6 286.2L713.2 287.4L711.8 288.6L710.6 290L709.1 291.3L708.1 293L707.4 295L705.2 295.7L704 297.3L703 299L702.8 300.7L702.5 302.4L702.2 304.1L702.8 305.9L701.6 307.5L702.2 309.2L702.2 311L701.7 312.6L700.9 314.3L701 316L701.2 317.9L700.2 319.7L699.6 321.5L700.1 323.4L700.1 325.3L699.7 327.1L699.2 329L698.8 330.8L699 332.7L697.2 333.3L695.5 334L694.2 335.6L692.4 336.2L690.5 336.5L688.7 336.4L687.3 335.3L685.4 335.5L683.9 334.7L682 335.1L680.5 334L678.9 335.1L677.1 335.3L675.2 335.3L673.4 335.7L671.7 336.2L670.1 337.3L668.2 337.5L666.5 338.1L664.8 338.5L663 339L662.1 341L659.9 342L659 344L657.1 344L655.5 342.5L653.6 342.1L651.5 343L649.8 342L648 341.5L647.2 339.8L646.3 338.2L644.5 337.2L643.2 335.9L641.9 334.6L641.7 332.4L640 331.4L638.9 329.4L638.8 327.1L638 325L636.5 323.9L635.9 322.1L635.3 320.2L633.2 319.5L633 317.5L631.5 316.3L630.9 314.5L629.6 313.2L627.9 312.2L627.6 310.1L626.1 309.1L625 307.6L623.9 306.1L623.4 304.4L623.6 302.4L623.1 300.7L622.7 299L620.8 298.7L618.9 298.4L617.2 297.5L615.4 297L613.8 295.7L611.6 296.3L610 295L608.1 295.4L606.3 296L604.9 297.7L602.7 297.3L601 298.3L599.1 298.7L597.6 300L596.3 301.4L594.7 302.6L593.1 303.7L591.1 304.2L590 306L588 305.7L586 305.8L584 305.5L582 305.5L580 305L578.6 306.3L576.9 306.9L574.8 306.5L573.5 308L571.4 307.7L570 309L568.4 308.3L566.9 307.3L565.7 306L564 305.4L562.7 304.2L561.8 302.4L560 302L558.1 301L556.1 300.7L554 300.6L552.1 299.8L550 300L549 298.3L547.2 297.7L545.9 296.3L543.9 296L543.1 294L541.4 293.2L540 292L538.3 291.8L536.6 292.1L534.9 292.7L533.2 293.2L531.4 292.1L529.8 293.4L528 293L526.2 293.2L524.5 293.5L522.7 293.6L520.9 293.1L519.1 292.8L517.4 294L515.5 293.5L513.8 294.2L512 294L510.2 294.4L508.5 295.2L506.9 296L505.1 296.5L503.4 296.9L501.3 296.4L499.8 297.5L498 298L497.8 299.8L496.3 301.2L495.6 302.9L495.8 304.9L495.7 306.7L495 308.4L494 310L492.9 311.7L491.1 312.5L489.9 314L488.2 315L486.7 316.1L485 317L484.4 319L483.4 320.9L483.1 322.9L483 325L482.3 326.6L481.6 328.2L480.6 329.7L480.1 331.3L479.3 332.9L478.9 334.6L477.9 336L476.2 337.1L476 339L474.9 340.7L473 341.5L471.4 342.6L470 344L468.1 344L466.8 345.5L465 346L463.4 346.6L461.6 346.9L459.9 347.4L458 347.2L456.5 348.4L454.7 348.8L453.2 349.6L452.4 351.6L450.8 352.4L448.8 352.3L447.2 352.9L446 354.3L444.4 355L443 356L441.7 357.5L439.8 357.8L437.8 357.9L436.2 358.8L434.6 359.6L432.9 360.3L431.7 362.1L430.2 363.1L428.5 363.8L426.6 364.2L425 365L423.1 365.2L421.2 365.4L419.5 366.2L417.7 366.8L416 367.5L415.5 365.6L414.2 364.2L413.5 362.4L412.6 360.8L410.9 362.2L408.5 362L406.9 363.6L404.8 364L404.6 361.9L403.5 360.2L402.5 358.5L400.8 357.9L399.1 357.3L397.6 356.3L396.3 355L394.8 354L392.9 354L391.3 353.2L390 351.8L388.9 350.2L387.9 348.6L386.6 347.2L385.3 345.8L384.5 344L382.8 344.4L381.3 345.7L379.5 345.8L377.8 346.1L375.9 345.8L374.4 347L372.8 348.5L371 349.8L370 351.8L369.6 353.5L369.5 355.2L369.1 356.8L367.6 358.2L367.5 360L367.7 361.8L367.6 363.5L366.5 365L365.4 366.5L364.1 367.8L363.3 369.6L362.5 371.2L360.9 372.4L360 374L358.3 373.2L356.5 374.2L354.7 374.3L353 373.7L351.2 373.5L349.5 373L347.7 373.6L346 373L344.2 373.1L342.5 373.7L340.8 374.5L339.2 375.5L337.2 374.9L335.7 376.3L333.8 376.1L332.3 377.5L330.5 377.6L328.7 377.7L327 376.6L325.1 376.9L323.5 375.6L321.6 376L319.8 376.1L318 375.7L316.3 375.1L314.6 374.4L312.9 373.7L311 374L309.5 372.7L308.9 370.8L307.6 369.4L307 367.5L305.2 369L305.1 371.5L303.5 373L301.6 373.8L299.7 374L297.8 373.7L295.8 373.1L293.9 373.3L292 374L289.9 374.1L287.9 374.1L285.9 374.6L284.1 375.9L282 376L282.1 378.1L280.6 379.9L280.4 381.9L281.1 384.1L280 386L278.3 386.6L276.9 387.8L275.3 388.6L273.7 389.4L272 390L272.1 392.1L271.9 394.1L271.1 396.1L270.6 398L270 400L269.8 402.2L271.5 403.9L270.8 406.2L272 408L273.4 409.3L274.2 410.9L274.6 412.8L276 414L277.7 415.9L280 417L278.4 417.8L277.1 419L275.2 419.1L273.7 420L271.7 419.9L270.6 421.6L268.9 422.1L267 422.1L265.9 423.9L264 424L262.3 424.6L260.5 424.4L258.8 424.9L257.3 426.4L255.6 426.8L253.9 427.2L252 427L250.3 426.2L248.5 427.1L246.8 426.3L245 425.9L243.2 426.6L241.5 426.6L239.8 425.4L238 426L236.3 425.8L234.6 426.4L232.9 425.7L231.1 426.3L229.4 426.3L227.7 426.7L226 426L224.2 426L222.3 426.1L220.6 426.8L218.8 426.7L217.2 428.4L215.4 428.4L213.6 428.4L211.7 428L210 429L208.3 428.1L206.5 428.7L204.7 428.6L203 428.1L201.2 427.8L199.6 426.9L197.7 427.7L196 427L194.3 426.4L192.5 426.4L190.7 426.2L188.9 426.1L187.1 426.3L185.3 426.6L183.5 426.5L181.8 426.3L180 426L178.4 425L176.3 425.3L174.6 424.6L173.1 423.1L171.1 423.2L169.3 422.9L167.5 422.3L166 421L164 421.3L162 421.9L160 422L158.3 421.2L156.5 421.2L154.8 420.9L153 421.9L151.2 422L149.5 421.9L147.7 421.1L146 421L144.4 420.2L142.6 420.1L140.9 419.9L139.3 419.1L137.7 418.3L136 418L134.9 416.5L133.6 415.1L132.4 413.6L130.8 412.5L128.9 411.7L128 410L126.6 408.6L124.5 408.3L123.1 406.9L121.2 406.2L119.9 404.7L118 404L116.5 403L115.5 401.6L114.4 400.2L113.2 399L112.9 397L111.4 395.9L110 394.8L109 393.4L108 392L107.6 390.1L106 389L104.7 387.7L104.4 385.7L103.2 384.4L102.6 382.6L100.5 381.8L100 380L98.8 378.6L98.1 376.8L97 375.4L95.9 373.9L93.7 373.3L92.9 371.6L92 370L90.2 369.5L88.9 368.4L88.1 366.4L86.4 365.9L85.2 364.5L83.3 364.2L82 363L80.1 362.8L78.5 363.8L76.8 364.5L74.9 364.1L73.1 364.2L71.6 365.8L69.7 365.5L68 366L66.3 365.7L64.5 366.2L62.7 365.8L61 366L59.2 365.8L57.5 365.6L55.8 365L54 365L53.2 363.3L51.6 362L50.4 360.5L49.8 358.6L49.2 356.7L47.6 355.5L46.8 353.8L46 352L45.2 350.4L45.6 348.5L44.9 346.9L43.8 345.4L43.4 343.6L43.4 341.8L43.3 340.1L43 338.4L41.8 336.8L42 335L41.6 333.2L42.5 331.4L42.1 329.5L42 327.7L42.2 325.9L43.2 324.1L42.4 322.3L42.8 320.5L42.6 318.6L42.8 316.8L43 315L43.7 313.1L44.1 311.1L43.4 309L43.3 307L44 305L43.3 303.2L41.6 302L40.4 300.6L40.5 298.3L39 297L38.7 295.3L39.2 293.5L38.4 291.9L39 290.1L38.2 288.4L37.6 286.8L38 285L38.3 282.7L40 281L40.7 279.4L41.4 277.8L42.4 276.3L41.9 274.3L43.3 272.9L43.6 271.2L44.4 269.6L45 268L45.6 266.3L46.7 264.9L48 263.7L49.5 262.6L49.5 260.4L51 259.3L52.4 258.1L53.6 256.8L54 255L54 252.9L54.3 250.9L55.9 249.1L56.3 247.1L56 245L57.2 243.4L57.9 241.4L60.1 240.6L60.7 238.5L62 237L63.2 235.6L63.5 233.7L64 232M244 132L243.1 133.9L243.7 136.1L242.4 137.9L242.4 140L241.9 141.8L240.8 143.3L239.3 144.5L238.4 146.2L238 148L239.1 149.8L239.7 151.9L240 154M228 135.2L228.5 136.9L228.8 138.7L229.4 140.4L230.2 142.1L230 144L231.3 145.8L231.7 148.2L233 150L231.5 151.7L231.6 154.3L230 156M271 127L270.7 128.8L270.2 130.6L271.1 132.5L269.7 134.1L270 136L271.1 137.9L270.9 140L271.4 142L272 144M318 112L316.5 113.2L315.5 114.9L314.1 116.1L312.6 117.2L311.4 118.7L310 120L309.3 121.6L309.1 123.4L308.6 125L308.7 126.9L307.3 128.3L307 130L307.3 132L307.9 134L307.4 136L308 138L309 139.6L310.7 140.6L312 142L313.8 140.9L316 140.6L318 140L319.8 139.6L321.5 139.7L323.2 140.3L324.9 140L326.6 140.6L328.3 140.9L330 141L331.9 140L334 140.5L336 140L337.8 140.9L338.4 142.9L340 144M340 144L338.9 145.9L338.7 148L338 150M336 140L335.5 137.9L336.4 136L336.4 134L337.5 132.1L337 130L335.3 129.4L334.5 127.6L333.2 126.4L331.6 125.7L330 125M241 178L241 180.1L242.4 181.9L241.8 184.2L243 186L242.7 188L241.6 189.9L241.3 191.9L241.6 194L242.9 197M261 178L263 178.9L264.1 181L266 182L266.2 183.9L268.2 184.9L268.6 186.7L268.9 188.6L270 190L271.8 190.3L272.9 192.1L275 192.1L276.2 193.6L278 194L279.8 192.8L282 192.7L284 192M316 156L317.8 157.3L320.1 156.9L322 158L323.9 157L326 156.7L328 156L329.7 156.8L331.4 157.4L332.8 158.6L334 160L334.2 158.1L335.9 156.9L336.3 155.1L337.2 153.6L336.9 151.5L338 150M236 182L237.9 181L239 178.9L241 178M394 120L393 121.5L391.8 122.9L391.2 124.6L390 126L388.1 127.1L386.9 128.9L385.4 130.4L384 132L382.3 132.9L381.8 135.1L379.5 135.5L378.5 137.2L377.4 138.8L376 140L374.6 141.4L374.3 143.5L373 145L374.3 146.6L376.3 147.1L378 148L380.1 148.5L381.9 149.7L384 150L384.8 151.7L385.9 153.3L385.9 155.4L387 157L388.9 157.4L390 159M340 138L341.5 139.1L343.5 139L344.9 140.2L346.4 141.3L348.3 141.5L350 142L350.3 144.1L351.3 145.9L352.2 147.8L352 150L352.2 152.2L351.5 154.1L350.3 156L350 158L350.4 160L350.5 162L350.2 164.1L351 166L353 166.9L354.6 168.3L356 170L357.8 170.2L359.5 169.3L361.2 169.3L363 169.8L364.8 169.4L366.5 169.8L368.2 169.6L370 170L371.7 169.3L373.3 168.5L374.6 167.2L376.5 167L378 166L379.3 164.6L380.3 162.9L382.5 162.5L383.1 160.4L384.3 159L386 158M386 158L387.8 157.9L389.3 159.2L390.8 160L392.5 160.4L394.4 160.4L396 161L397.8 161.5L399.7 162L400.9 163.7L402.6 164.4L404.4 165L406 166L408.2 166.5L410.5 166.6L412.7 167M370 170L369.9 172.2L370.7 174.1L371.9 175.9L372 178L370.9 179.9L371.7 182.2L370.5 184L370 186L370.7 187.6L371.6 189.1L372.4 190.6L372 192.5L373 194L372.3 197M340 169.3L342 170L343.5 168.5L345.6 168.5L347.7 168.2L349 166.3L351 166M428.9 166.2L429.9 168L430 170L429.3 172L429 174L428.3 175.9L428 178L429.2 179.4L431.3 179.6L432.7 180.8L434 182L435.3 180.8L436.6 179.4L438.8 179.5L440 178L439.3 179.9L439.2 182L440 184.1L439 186L437.9 187.4L437.5 189.1L437.2 190.8L436.3 192.3L436 194L436.7 197M466 147L466.6 149L467.4 150.9L468.1 152.9L468 155L469.7 155.2L471.4 155.6L472.9 156.6L474.3 157.8L476 158L477.9 159.3L479.8 160.5L482 161M498 133L497 134.5L497 136.5L495.9 138L495.4 139.7L494.3 141.2L494 143L493.7 145L493.8 147L493 149L493 151L493.4 153L495.4 154L495.5 156.1L497.6 157L498 159L499.8 159.9L501.4 161.1L502.6 162.9L504 164.3L506 165L506.7 167.2L508.2 168.9L509 171L510 172.6L512 173.2L513.5 174.3L514.2 176.3L516 177L516.8 178.6L517.8 180.2L518.8 181.6L520 183M520 183L522 182.4L523.2 180.6L525.1 179.8L526.6 178.4L528 177L529.9 176.2L531.1 174.5L533 173.7L534.5 172.3L536 171L538 171L540.1 171.1L542 171.9L544 172L546.2 171.9L547.9 173.6L550.1 173L552 174L553.9 173L555.9 172.9L558.1 173.9L560 173L561.9 171.3L564 170M520 183L518.9 184.9L517.5 186.5L516 188L514 189L512.5 190.1L511.2 191.5L509.8 192.8L508.4 194.1L507.8 196.1L506 197M520 183L521.5 184.3L523.3 185.2L524.5 187L526.1 188.2L528 189L529.2 190.7L531.6 190.9L532.5 193L534 194.3L536 195L537.5 196.1L539.5 195.4L541.2 196.1L542.7 197M564 170L563.8 168.1L564 166.2L565.5 164.6L565.8 162.8L565.9 160.9L566 159L564.2 157.6L562 157M564 170L565.5 170.8L567.3 170.9L569 171.2L570.6 171.8L572 173L573.4 174.5L575.5 175L577 176.4L578.5 177.7L580 179L581.4 180.3L581.9 182L582.7 183.7L582.9 185.5L584 187L585 188.5L585.8 190.1L585.8 192.1L587.2 193.4L588 195M476 183L477.8 184.2L479.9 184.5L482 185L483.2 186.8L483.1 189L483.6 191L484 193L485.2 195.2L487 197M660 150L659.7 151.7L658.7 153.2L658.4 155L658.4 156.8L657 158.2L657 160L658.1 161.5L657.5 163.5L659 164.9L659.7 166.5L659.9 168.2L660 170L659.1 171.6L658.3 173.1L659.2 175.2L658 176.7L657.5 178.3L657 180L656.2 181.9L656.7 184.1L655.8 186L655.6 188L655 190L654.9 192.1L656.2 193.9L655.5 196.1L656.9 197.9L657 200L657.2 202L656.3 204L656.4 206L656.8 208.1L656 210L656.5 211.7L657.9 213.1L657.6 215.2L658.4 216.8L658.9 218.5L660 220L659.4 222L659.4 224L658.9 226L658.6 228L658 230L657.9 232.1L659.6 233.8L658.9 236.1L660 238L660.2 240.2L659.4 242.1L658.8 244.1L658 246L658 248.2L659.1 250L659.7 252M663 148L663.6 149.6L663.3 151.5L664.7 152.9L664.8 154.7L665.1 156.3L665.6 158L666.4 159.7L667.5 161.2L668.7 162.6L670 164L669.6 165.7L669 167.3L668.7 169L667.1 170.2L667 172L666.4 174L665.8 175.9L666.3 178.1L665.5 180L665 182L665.1 183.8L665.9 185.4L667 186.8L667.1 188.7L666.9 190.5L668 192L669.8 192.9L671.5 194L673 195.4L674.2 197L676 198L677.9 198.8L680.1 198L682.1 198.2L684 199L685.4 197.7L687.1 196.8L688.8 196L690.1 194.6L692 194L693.1 192.3L694.1 190.7L696.3 190L697 188L698.3 186.5L698.5 184.4L700 183M705 187L703.4 188.4L703.5 190.8L702.2 192.3L701 194L700 195.9L700.1 197.9L699.9 200L700 202L699.6 204L699.4 206.1L698.3 207.9L698 210L698.9 211.9L699.1 213.9L699 216L697.4 217.1L696 218.6L694 219M694 219L694.9 220.7L695.2 222.8L696.1 224.5L697.2 226.2L698 228L699.5 229L701.2 229.6L703 229.9L704.3 231.3L706 232L707.6 232.9L708.8 234.3L710.2 235.5L712 236L712.6 238L712.9 240L713.1 242.1L714 244L716.1 244.9L718 246L719.7 245.5L721.5 246.1L723.3 246.2L725 245.9L726.8 245.7L728.5 245.8L730.3 245.4L732 245L732.3 245.4M660 238L662 238.6L664 238.7L666.1 238.9L668 239.8L670 240L672 240.3L673.5 241.6L675 243L676.7 243.7L678.5 244.5L680.5 244.8L682 246L684 246.3L686 246.7L688 247.4L690 247.5L692 248L693.8 248L695.5 248.1L697.1 246.7L698.9 247.1L700.6 247L702.3 246.1L704 246L704.5 244L705.7 242.2L704.8 239.8L706 238L706.6 235.5L707 233M650 156L651.7 157L652.4 159L654 160L655.3 158.6L655.4 156.7L656 155L656.9 153L658.8 151.7L660 150M630 194L631.3 195.4L632.4 196.9L634 198L634.8 199.6L635.4 201.3L636 203L637.2 204.4L638 206L639.6 206.5L641 207.8L643 207.4L644.3 208.7L646 209L646.7 207.1L648 205.6L647.9 203.4L649.9 202.1L650 200L650.6 198.2L651.1 196.4L652.2 194.8L653.2 193.3L653.5 191.3L655 190M704 246L704.4 248L704.7 250L704.9 252M618 144L618 145.8L618.8 147.4L619.2 149.1L619.6 150.8L619.1 152.6L619.1 154.4L620 156L619.3 157.7L619.1 159.5L617.6 160.8L617.5 162.7L617.1 164.5L616 166L617 167.5L616.6 169.5L617.1 171.1L617.8 172.7L618.5 174.3L619 176L619.4 177.7L620.4 179.2L619.8 181.2L621.2 182.6L621.3 184.4L622 186L622.6 187.8L623.6 189.3L625 190.5L626 192L628.1 192.7L630 194M632 261.1L633.7 261.3L635.5 260.8L637.1 262L638.9 261.4L640.5 262.3L642.3 261.5L644 262L646 262.2L648.1 262.3L650 263L649.4 265L649.1 267.1L648 269M694 253L695.1 254.9L694.5 257.1L695.5 258.9L696 260.9L696 263L698.1 263.4L700 264.3L702 265L702.5 267L702.6 269L703 271L703.8 273L704 275L702.6 276.3L701.9 278L702.2 280.1L700.4 281.2L700 283L699.7 284.8L700.2 286.5L701.4 288.1L700.7 289.9L701.2 291.6L702.4 293.2L702 295L701.8 297L699.7 298L699.5 300M650 263L651.5 264L653.4 264.3L655.1 264.9L656.6 265.7L658 267L656.5 268.3L654.5 268.6L653 270M692.6 252L694 253M60.9 237.9L62.9 237.5L64.9 237L67 238L69 237.2L70.8 237.2L72.2 235.8L74.2 236.4L75.7 235.5L77.4 235.3L79 234.4M100 230L101.6 229.4L103.3 228.8L104.7 227.9L106.2 227.1L107.3 225.4L109 225L110.2 223.5L111 221.7L112 220L112.8 218.3L113 216.4M55 259L57 259.3L58.9 260.3L61 260.1L63 260.4L64.9 259.5L66.9 258.8L68.8 258.1L71 258L73 257.8L74.9 256.9L77 257.4L78.9 256.7L81 257M107 255L105.6 256L104.2 257L102.8 258L101.1 258.6L100 260L99.6 261.9L97.6 262.6L97 264.4L98.4 265.7L99.6 267.1L101 268.4L102.2 269.9L103.3 271.4L105 272.4M105 272.4L103.9 273.9L102.6 275.3L100.7 276.1L100 278L99 280L96.9 280.9L95.4 282.4L94 284L93.3 285.9L91.5 286.7L90.2 288L88.7 289.2L88 291L87.4 292M105 272.4L106.4 271.3L108.4 271.3L109.5 269.9L111 269L112.7 268.1L114.8 267.8L115.9 265.8L118 265.6L119.8 264.6L121.3 263.1L122.6 261.5L124.4 260.4L125.9 259.4L126.3 257.6L127.5 256.3L128.6 255L129.6 253.6L130.8 254.9L132.8 255.1L134 256.4L135.2 254.8L136.4 253.3L137.8 252L139 250.4L141.3 249.4L143 247.6M123 241L123.2 242.8L122.3 244.6L122.8 246.4L122.5 248.2L122.4 250L121.6 251.7L120.2 253L118.5 254.1L118 256L116.2 255.5L114.5 254.9L112.6 255.3L110.8 255L109 254.4L107 255M143 247.6L144.5 246L146.4 245L148 243.6L148.2 241.7L148.4 239.9L148 238L146.2 236.7L145.9 234.5L144.4 233M144.4 233L144.6 231.2L143.7 229.7L143.2 228L142.2 226.1L142.3 224L141.6 222.1L142 220L142.2 218.2L143.8 217L144 215.3L144.4 213.6M144.4 233L146.2 233.9L148 234.7L150 235L151.1 236.9L153 238M168.4 266L170 265.3L171.5 264.6L173 263.6L173.7 261.8L174.2 259.9L174.4 258L176.3 257.3L178.2 256.6L180 255.6L181.9 254.8L184 255L186 254.3L188.1 254.4L190 253.6M173 263.6L174.2 265.3L174.8 267.2L175.7 269L175.3 271.3L176.4 273L175.1 274.5L174.8 276.4L174.5 278.3L173.6 280L171.9 281.7L171 284M237.8 197L238.6 198.8L240 200L242 200.6L244.1 200.6L246.1 201.2L248 202L249.4 203.6L250.9 205.2L252 207L254 206.4L256.1 206.2L258.2 206.1L260 205L261.5 203.9L263.4 204.1L264.8 202.8L266.5 202.5L268.5 202.9L270 202L271.7 201.3L273.5 201L274.8 199.5L276.1 198.1L278 198L278.8 197M232 207L232.4 208.7L232.4 210.5L232.1 212.3L233 214L233.4 215.9L235 217L236.1 218.4L237 220L236.9 222.2L235.5 223.9L235 226M216 207L217.8 207.2L219.4 207.7L221.1 208.1L222.7 208.7L224 210L225.7 209.7L227 208.3L229 208.9L230.2 207L232 207M278 206L280.1 206L281.9 204.5L283.8 203.8L286 204L287.5 204.9L289.3 204.8L290.7 206.1L292.6 206L294 207L295.8 207L297.1 208.6L298.7 209.1L300.2 209.9L302 210L303.4 211.5L305.6 211.9L306.7 213.8L308.2 215.1L310 216L311.6 216.7L312.9 218.2L315 218.1L316.1 219.8L318 220L319.9 220.7L322.1 220.1L324.1 220.5L326 221.8L328 222L330 222.3L331.9 221L334 221.1L336 221.5L338 221L339.8 220.8L341.4 222L343.3 221.7L345 222M278 206L278.3 208.1L277.5 210L277 212L277.6 214L278.4 216L279 218L279.8 220.1L281.5 221.8L282 224M278 206L278.4 204L277.8 202L278.2 200L278 198M310 216L310.6 217.7L311.7 219.1L312.6 220.7L312.8 222.6L314 224L312.7 225.8L312.3 227.9L312 230L312.4 232L313.3 233.9L314.1 235.8L314 238L312.6 239.3L312.1 241.1L311.2 242.6L311 244.5L310 246L309.2 247.9L308 249.8L308 252L309.1 253.9L310.9 255.1L312.7 256.3L314 258L312.7 259.4L310.9 260.3L310 262M328 222L327.3 220L327.3 217.9L326.6 216L326 214L327.5 212.8L328.4 211.3L328.7 209.3L330 208L330.4 206.1L331.7 204.8L332.9 203.4L334 202M283 250L284.8 249.1L286.7 248.4L288.5 247.5L290 246L291.8 244.8L294.1 245.5L296.1 245L298 244L300.2 243.5L302 242.1L304 241L305.7 242L306.7 243.9L308.2 245.1L310 246M190 233L191.5 233.9L193 234.8L194.9 234.6L196.6 234.8L198 236L199.6 236.9L201 238L203 238L204.2 239.5L206 240L207.6 242L210 243M212 248L214.1 248.3L215.9 249.5L218 250L220.1 249.6L222 248.6L224 248L225.9 248.1L227.6 248.6L229.1 249.9L231 250L232.2 252.3L234 254M234 254L235.5 252.9L236.7 251.5L238.8 251.4L240 250L240.6 252.2L242.4 253.8L243 256M212 248L212.4 250L212.4 252.1L212.9 254.1L214 256L213.5 258L213 260L212.4 262L212 264L213.4 265.2L214.4 266.7L215.4 268.2L216 270L215.4 272L215.5 274L215 276L216.7 277.1L218.6 277.9L220.2 279L222 280L223.9 280.8L225.6 281.9L226.4 284.2L228.5 284.6L230 286M244 274L245.2 272.5L247.1 272.2L248.7 271.4L250 270L251.9 269L254 269.1L255.9 268.3L258 268L259.6 267L260.8 265.4L262.4 264.4L264.8 264.6L266 263L267.7 264.9L270 266L270.5 268L270.9 270L271.8 271.9L272 274L273.2 275.8L275.1 276.9L276 279L278 280L277 281.9L276.2 283.8L276 286M244 274L244.2 275.9L245.9 277L247 278.5L247.6 280.2L248 282L248 284.1L247.6 286.2L247.2 288.2L246 290L247.3 292M308 262L307.4 264L306.5 265.9L306.6 268L306 270L306.4 271.9L307.5 273.3L309.5 274.1L310 276L309.4 278L309.1 280L309.1 282.1L308 284L306 285L305.3 287.3L303.4 288.4L302 290L302.5 292M276 286L277.5 287L278.9 288.2L280.7 288.6L282.5 289.1L284 290L286 292M310 262L312 261.4L313.9 260.5L316.2 261.2L318 260L319.3 261.6L321.5 261.6L323.4 262.4L324.9 263.7L326.4 264.8L328 266L328.5 267.8L330 269M359 217L360.9 217.1L362.6 216.5L364.1 214.8L366 215L368 215.2L370 214.9L372 214.6L374.1 214.9L376 214L378.1 213.5L380.1 213.9L382 215L383.9 215.5L386 215L387.6 215.8L389.4 215.7L391 216.6L392.6 217.4L394.5 216.9L396 218L397.7 218.6L399.4 219.3L401.1 219.9L402.4 221.2L404 222L405.8 221.6L407.5 221.9L409.2 221.9L410.8 222.8L412.6 222L414.3 223.2L416 223L418.1 223L420.1 223.1L421.9 224.8L424.1 224.2L426 225L428 225.7L430 225.6L432 225.6L434 224.5L436 225L437.7 225.4L439.5 225.4L440.8 227.1L442.5 227.5L444.3 227.7L446 228L447.7 227.9L449.4 227.8L451.1 228.5L452.9 228L454.6 228.2L456.3 227.5L458 228L460.1 228.1L462.2 228.4L463.9 229.8L466 230L468 231.1L470 232M443.1 197L443 198L442 199.8L439.8 200.4L439 202.4L437.5 203.7L436 205L437.2 206.5L437.8 208.4L437.8 210.5L439 212L440.2 213.5L441.4 214.9L442 216.8L443.2 218.3L444 220L444.2 222.4L445.6 224.4M359 217L358.9 215.1L360.7 213.7L359.9 211.6L361 210L361 208.2L360 206.7L358.8 205.4L358.6 203.6L358 202L358.1 200.3L358.4 198.6L359.2 197M359 217L360 218.7L360.4 220.5L360.1 222.6L360.7 224.4L362 226L362 227.8L363.8 229L364.1 230.7L363.8 232.6L365 234L366.2 235.4L365.9 237.3L367.1 238.7L366.7 240.7L368 242L369.6 243.1L369.6 245.3L371.2 246.4L372 248L373 249.9L373.7 251.8L373 254.1L374 256L373 257.5L372.4 259.3L371.1 260.6L370 262L369.9 264.6L371 267M470 232L471.3 230.5L473.3 229.7L474.5 228L476.1 226.8L478 226L477.4 223.8L476.3 221.9L475 220L476.4 218.3L477.9 216.8L480 216L481.4 214.8L483.4 214.8L485 214L486.5 213L488.2 212.3L490 212L491.7 210.9L493.4 209.8L495.1 208.8L496.5 207.3L498 206L499 204.4L500.2 202.9L502 202L503.9 202.8L506 202.9L507.9 203.8L510 204M470 232L469.1 233.8L467 234.3L466.2 236.2L464.3 237L462.9 238.3L462 240L461.4 241.6L461.5 243.5L459.6 244.6L459.6 246.4L459 248L458.2 249.9L458.9 252L458.9 254L457.7 256L458 258L459.2 259.4L460.4 260.7L461.2 262.4L462 264L463.5 265.3L465.6 265.8L466.8 267.6L468.4 268.7L470 270L470.8 271.6L472.1 272.9L472.1 274.9L472.8 276.6L474 278L474.3 279.8L475.8 281.1L476.1 282.9L477.4 284.3L478 286L476.9 287.9L477.2 290.2L475.8 292M423 250L424.9 250L426.7 249.7L428.2 248.5L430 248L432 247.5L434 247L436 246.6L438 246L439.8 244.8L442.2 245.7L443.9 244.1L446 244L447.8 244.4L449.5 245.1L451 246.1L452.2 247.6L454 248L456.5 247.3L459 248M423 250L422.2 251.9L420.3 252.8L419.6 254.8L418 256L416.8 257.8L414.7 258.3L413.1 259.5L411.6 260.8L410 262L408.2 263L407.2 264.9L404.9 265.2L403.4 266.5L402 268L403.6 269.1L404.5 270.7L405 272.5L406 274L407.3 275.3L408.9 276.4L410 278M430 250L431.1 251.9L431.1 254L432 255.9L432 258L431.4 260L430.5 261.9L431 264.1L430 266L431.4 267.1L432.8 268.3L434.8 268.6L436 270L436 272.1L436.4 274.2L437.7 276L438 278L439.3 279.5L440 281.5L441.6 282.8L442.9 284.3L444 286L444 288.2L444.9 290.1L446 292M350 268L352.1 268.3L354.1 268.6L356.1 269.3L358 270L359.6 269.3L361.5 269.5L363 268.6L364.6 268.2L366 267L368.5 267.5L371 267L372.7 267.9L374.7 267.1L376.4 268.2L378.1 269.3L380 269L381.5 270.1L383.4 269.6L385 270.4L386.6 271.2L388.4 271.3L390 272L391.6 273.2L393.6 273.9L394.9 275.5L396.4 276.8L398 278L398 280.2L397.2 282.2L396 284L396.4 285.9L397.7 287.2L398.5 288.9L400 290M486 234L486.8 235.6L487.6 237.3L488.5 238.8L490 240L490.9 241.7L493.2 242.2L494 244L495.5 245L497.4 245.3L498.7 246.6L500.6 246.9L502 248L503.6 248.9L504.9 250.2L506.7 250.6L508.6 250.9L510 252M478 226L479.3 227.2L480.7 228.3L481.6 230L483.5 230.4L484.9 231.6L486 233L486.7 231.3L486.5 229.3L487.6 227.8L488 226L489.9 225.8L491.2 224.4L492.6 223.3L494.4 222.8L496 222M550 200L549.5 202L549.5 204.1L549 206.1L548 208L548.8 209.9L548.8 212L548.9 214L549 216L548.7 217.7L548.2 219.3L547.8 221L546.5 222.4L546 224L546.6 225.8L547.9 227.1L548.9 228.6L550 230L551.4 231.2L553.2 231.6L554.3 233.3L556 234L558 233.7L560 233.6L562 233.4L564 233L566 234.5L568 236L568 238L567.9 240L567.7 242.1L567 244L568 246L569.2 247.9L570 250M534 214L535.9 215.1L538.3 215.3L540 217L542 216.4L544.1 216.9L546 216L549 216M610.6 197L611.8 198.3L612.3 200L613.3 201.5L614.5 202.8L614.5 204.9L616 206L616.8 207.6L616.6 209.5L618 210.9L618.6 212.5L618 214.5L619 216L618.9 218L619.3 220.1L618.6 222L618.3 224L618 226L618.1 228.1L619.4 229.9L619.6 231.9L618.9 234.1L620 236L620.3 238.1L621.8 239.8L622 242M590 240L592 239.5L594 239.3L596 239.5L598 239L600 239.4L601.9 240L603.9 240.2L606 240L608 239.4L610.1 239L612 238L613.9 238.9L615.9 239.4L618 239.5L620 240L622 242M622 242L622.4 243.8L623.3 245.3L623.8 247.1L625.7 248.1L626 250L625.2 251.9L626.3 254.1L625 256L625.1 258L625 260L625.5 261.7L625.3 263.5L626.4 265L627.1 266.6L627.1 268.5L628 270L627.1 271.9L627 274L627 276L626.5 278L626 280L625.7 282L624.9 283.9L625.1 286.1L624.6 288L624 290L624.9 292L626.2 293.9L627 296M510 258L511.6 258.8L512.8 260.4L514.2 261.4L516 262L517.5 263L519 263.9L520.8 264.6L522 266L523.9 265.1L525.8 264.2L528 264L529.7 262.9L531.3 261.7L532.4 259.9L534.8 259.7L536 258L538 257.5L540.1 258L542.1 257.8L544 257M522 266L522.2 267.9L524 269L524.5 270.8L524.6 272.7L526 274L528 275L529.5 276.5L530.4 278.6L532 280L532.8 281.6L533 283.5L534 285L535.1 286.4L536 288L534.5 290.2L534.4 292.8M516.6 294L518.3 293.5L520 293L522 293.2L524 293.5L526 293.4M540.9 293.1L542.7 292.7L544.5 292.4L546.4 292.6L548.2 292L550 292L552 291L553.2 289.2L554.5 287.5L556 286M590 240L589.5 241.8L588.2 243.1L587.1 244.6L586 246L584.6 247.3L583.3 248.6L582 250M658.4 252L657.6 253.9L658 256L656.4 257.1L656 259L655.1 260.5L654 262L653 263.5L651.7 264.9L651.8 266.9L650.8 268.4L650 270L650 272.1L651.5 273.9L651.8 275.9L652 278M114 311L114.2 312.9L115.2 314.4L116.4 315.8L117.7 317.1L118 319L116.8 320.8L116.4 322.9L116 325L116.6 327.2L117.3 329.3L119 331L118.2 332.9L118.6 335L118.8 337.1L118 339L119.7 340.3L121 342L122.5 343.5L124 345L125.1 346.9L125.8 348.8L126 351M145 307L146.1 308.6L147.4 310.1L148.9 311.4L150 313L151.3 314.5L153.1 314.8L155.1 314.8L156.5 316.1L158 317L160.1 316.9L161.9 315.7L164.1 315.8L166 315L166.8 313.1L168.5 312.1L170 311M160 317L160.5 319.2L162 321L163.4 322.1L164.9 323.2L166.8 323.6L168 325L169.2 326.6L170.3 328.2L171.9 329.6L172.6 331.5L174 333L176 332L178 331M174 333L173.9 335L175 336.5L175.8 338.1L176.8 339.7L177.3 341.4L177.1 343.4L178 345L179.1 346.9L179.6 348.9L180 350.9L180 353L179.5 355L178.5 356.9L178.3 359L178 361L176.8 362.4L177 364.5L176.3 366.1L174.4 367.2L174 369L174.5 371L174.2 373L175 375L175 377L176.1 378.4L176.5 380.1L177.4 381.6L176.8 383.6L178 385M145 364L146.1 365.4L147.5 366.5L148.6 368L149.8 369.2L151.3 370.2L152 372L152.7 374L154.3 375.3L155 377.2L156.9 378.3L158 380L158.8 382.1L160.3 383.8L161 386L161 387.8L159.2 389L158.7 390.6L158.9 392.5L158 394L156 394.7L154.5 396L153.4 397.8L151.5 398.7L150 400M150 400L148.2 401.2L147.6 403.2L145.9 404.4L145.5 406.6L144 408L142.4 408.8L140.5 409L139 410L138.8 411.7L138.1 413.3L136.7 414.6L136.6 416.4L136 418M220 320L221.2 321.6L223.2 322.2L224.8 323.4L226 325L227.9 324.1L229.9 323.2L232 323L233.9 322.8L235.1 321.1L236.8 320.7L238.1 319.3L240 319L242 318.5L244 317.8L246 317.4L248 317M248 317L248.1 315.1L248.8 313.5L250.5 312.2L250.5 310.3L251 308.5L252 307L250.9 305.5L250.4 303.8L249.6 302.1L248.7 300.6L248.9 298.6L248 297L248.2 295.3L248.3 293.5L249.2 292M248 317L249.3 318.7L251.4 319.6L252.7 321.3L254 323L255.8 324.1L258.2 323.8L260 325L261.5 323.7L263.5 323L265.1 321.8L266.1 319.8L268 319L269.5 318L271.3 317.7L272.7 316.4L274.7 316.4L276 315L277.3 313.4L279.6 313.1L280.8 311.4L282.2 309.9L284 309L285.4 310.3L287.1 311.3L288 313M284 309L283.5 307.3L282.1 306L282.1 303.9L280.9 302.5L280 301L280.3 299L280.6 296.9L281.7 295L282 293L281.8 292M288 313L288.8 314.9L288.3 317.1L289.8 318.9L289.6 321L290 323L289.1 324.6L288.7 326.4L287.2 327.6L287 329.5L286 331L286.4 333.1L287.2 335L288 337L289.8 338L291.3 339.3L293.2 340.1L294.7 341.4L296 343L297 344.7L298.9 345.5L300 347M286 351L288 350.8L289.9 349.6L292 349.9L294 349.2L296 349L297.6 348.2L299.1 347.1L300.5 346L302.3 345.5L304 345L305.9 344.1L307.9 343.5L310.1 343.8L312 343L314.1 343.2L316 343.9L317.9 345.1L320 345M248 379L249.4 380.5L250.9 381.9L252.5 383L254.7 383.4L256 385L258.1 385.2L260.2 385.3L261.9 386.8L264 387L266.1 386.7L267.9 385.8L270 385.4L272 385L273.6 387L275.6 388.6M300 347L300.5 348.7L301.9 350L301.9 352L303.4 353.3L304 355L303.2 356.6L303.1 358.5L302.5 360.2L300.8 361.4L300.3 363.2L300 365L300.5 366.7L302.2 367.9L303 369.4L303.6 371.1L303.9 372.9M320 309L321.9 309.6L323.5 310.7L325.1 311.8L327 312.4L328.5 313.8L330 315L331 316.6L332.7 317.6L333 319.6L334.5 320.8L335.5 322.3L337.1 323.3L338 325L338.6 327L338.7 329.1L339.7 330.9L340 333L342.2 333L343.8 334.8L346 335L347.7 334.3L348.8 332.7L350.1 331.4L352 331M353.2 292L353.1 294.6L354 297L353.7 298.7L354.4 300.5L354 302.2L354 303.9L352.9 305.5L353.6 307.3L353 309L352.2 310.7L352.3 312.4L353.2 314.2L352.1 315.8L352.4 317.6L351.8 319.3L352 321L353.4 322.2L355.3 322.3L357.1 322.8L358.1 324.8L360 325L361.2 326.4L361.8 328.3L363.2 329.5L364.3 330.9L365.3 332.5L366.7 333.7L368 335L369.4 336.3L371.1 337.2L372 339M320 345L322.1 344.6L324 343.6L326 343L328 343.7L329.8 344.9L332 345M383.8 292L384 293L385.7 293.9L386.4 295.9L388 297L389.8 295.7L392.1 296L394 295M411 305L411 306.8L412.2 308.3L412.2 310.2L412 312L412.9 313.6L413.5 315.3L414 317L415.7 317.7L417.4 318.5L418.6 319.8L420 321L419.6 323L419.4 325.1L418.8 327.1L418 329L418.9 330.9L418.5 333.1L418.9 335.1L420 336.9L420 339L420.8 340.9L420.8 343L421.3 345L421 347.1L422 349L421.4 350.7L420.7 352.3L419.1 353.5L419.3 355.6L418 357L417.8 358.7L417.9 360.5L417.1 362.2L417.3 364L416.9 365.7L417.1 367.5M404 317L406.1 317L407.9 318.2L410 318.6L412 319L414 319.4L415.9 320.4L417.9 321L420 321M443.5 292L444 293L445.5 294.7L446 297M474.5 292L476 293.3L477 295L476.2 296.7L475.4 298.4L474.6 300.1L473.3 301.6L472 303L473.1 304.9L473 307.1L474 309L476 309.3L478.1 309.2L480.1 309.9L482 310.6L484 311L485.9 310.1L487.8 309.2L490 309L490.5 307.2L491.4 305.8L493.6 305.3L494.3 303.7L494.5 301.8L496.3 300.9L497.6 299.8L498 298M662.9 315.1L664.6 314.6L666 313.3L667.9 313.2L669.5 312.5L671.1 311.6L672.9 311.4L674.9 311.7L677 311.1L678.9 312.7L681 312.6L683 312.6L684.9 312.8L686.8 313.3L688.6 312.8L690.5 312.2L692.4 312.2L694.2 312.1L696.1 311.9L698 312.6M236 426L237.1 424.1L237.8 422.2L238 420L236.5 418.9L235 417.7L234 416L233 414.3L232 412.5L230.9 410.8L228.8 409.9L228 408M244 132L245.9 132L247.7 131.7L249.5 131.2L251.1 130.1L253 130L254.8 129L256.9 129.5L258.6 128.2L260.5 127.8L262.5 127.5L264.2 127.5L265.9 127.1L267.6 127.7L269.3 126.7L271 127L272.9 126L275 126.4L277 126.1L279 125.6" fill="none" stroke="#555" stroke-width=".55" opacity=".11"/>
<g fill="#000" stroke="#000" stroke-width=".25" font-weight="bold" font-size="17.5">
<text x="197" y="49.2" textLength="401.6" lengthAdjust="spacingAndGlyphs">Príčiny smrti na území Slovenska v rokoch</text>
<text x="334" y="71.8" textLength="128" lengthAdjust="spacingAndGlyphs">2008 až 2013</text>
</g>
<g>
<rect x="135.2" y="472.9" width="211.6" height="8.2" fill="#fff" stroke="#000" stroke-width=".9"/>
<rect x="135.2" y="472.9" width="21.9" height="8.2" fill="#000"/>
<rect x="177.4" y="472.9" width="43.2" height="8.2" fill="#000"/>
<rect x="261.7" y="472.9" width="43.3" height="8.2" fill="#000"/>
</g>
<g fill="#1a1a1a" font-size="11.4" text-anchor="middle">
<text x="135.6" y="465">25</text>
<text x="178" y="465">0</text>
<text x="219.8" y="465">25</text>
<text x="261.8" y="465">50</text>
<text x="304.2" y="465">75</text>
<text x="337.6" y="465" text-anchor="start" textLength="36.4" lengthAdjust="spacingAndGlyphs">100 km</text>
</g>
<text x="499.3" y="371.9" font-size="14" fill="#000" stroke="#000" stroke-width=".15" textLength="70.7" lengthAdjust="spacingAndGlyphs">Vysvetlivky</text>
<g>
<rect x="502.1" y="393.1" width="12.4" height="9.2" fill="#fff" stroke="#7d7d7d" stroke-width=".8"/>
<rect x="501.7" y="422.6" width="13.1" height="9.5" fill="#ffe66e"/>
<rect x="501.7" y="437.5" width="13.1" height="9.5" fill="#e53238"/>
<rect x="501.7" y="452.4" width="13.1" height="9.5" fill="#3a7fc0"/>
<rect x="501.7" y="467.3" width="13.1" height="9.5" fill="#4dae4c"/>
<rect x="501.7" y="482.2" width="13.1" height="9.5" fill="#9a50ab"/>
<rect x="501.7" y="497.2" width="13.1" height="9.5" fill="#ff7f0e"/>
</g>
<g class="sf" fill="#1c1c1c" stroke="#1c1c1c" stroke-width=".28" font-size="12" style="font-family:'Liberation Serif',serif">
<text x="519.2" y="401" textLength="90.3" lengthAdjust="spacingAndGlyphs">hranica okresu</text>
<text x="519.2" y="415.9" textLength="82.8" lengthAdjust="spacingAndGlyphs">príčiny smrti:</text>
<text x="519.2" y="430.8" textLength="41.4" lengthAdjust="spacingAndGlyphs">nádory</text>
<text x="519.2" y="445.7" textLength="152.8" lengthAdjust="spacingAndGlyphs">choroby obehovej sústavy</text>
<text x="519.2" y="460.6" textLength="154.5" lengthAdjust="spacingAndGlyphs">choroby dýchacej sústavy</text>
<text x="519.2" y="475.5" textLength="151.8" lengthAdjust="spacingAndGlyphs">choroby tráviacej sústavy</text>
<text x="519.2" y="490.4" textLength="165.6" lengthAdjust="spacingAndGlyphs">vonkajšie príčiny úmrtnosti</text>
<text x="519.2" y="505.3" textLength="90.3" lengthAdjust="spacingAndGlyphs">ostatné príčiny</text>
</g>
<g fill="#111" font-size="10">
<text x="21.9" y="527.6" textLength="142.5" lengthAdjust="spacingAndGlyphs">Vstupné údaje: Štatistický úrad SR</text>
<text x="21.9" y="538.8" textLength="347.7" lengthAdjust="spacingAndGlyphs">Spracované údaje: Integrovaná geografická báza údajov environmentálneho zdravia</text>
<text x="21.9" y="550" textLength="342.1" lengthAdjust="spacingAndGlyphs">© Katedra kartografie, geoinfomatiky a DPZ, Prírodovedecká fakulta UK v Bratislave</text>
</g>

</svg>
</body></html>
